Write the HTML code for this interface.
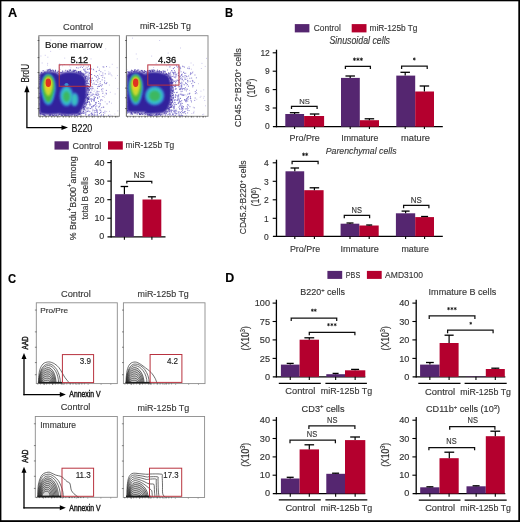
<!DOCTYPE html>
<html><head><meta charset="utf-8"><style>
html,body{margin:0;padding:0;background:#fff;}
svg{display:block;font-family:"Liberation Sans",sans-serif;}
text{stroke:currentColor;stroke-width:0.15px;}
</style></head><body>
<svg width="520" height="522" viewBox="0 0 520 522">
<defs><filter id="gb" filterUnits="userSpaceOnUse" x="0" y="0" width="520" height="522"><feGaussianBlur stdDeviation="0.3"/></filter></defs>
<rect width="520" height="522" fill="#fff"/>
<g filter="url(#gb)">
<text x="8.10" y="17.00" font-size="12.71" font-weight="bold" font-style="normal" fill="#000" color="#000" textLength="9.20" lengthAdjust="spacingAndGlyphs">A</text>
<text x="225.10" y="17.00" font-size="13.14" font-weight="bold" font-style="normal" fill="#000" color="#000" textLength="8.10" lengthAdjust="spacingAndGlyphs">B</text>
<text x="8.10" y="282.60" font-size="13.57" font-weight="bold" font-style="normal" fill="#000" color="#000" textLength="8.10" lengthAdjust="spacingAndGlyphs">C</text>
<text x="225.30" y="282.30" font-size="13.14" font-weight="bold" font-style="normal" fill="#000" color="#000" textLength="9.00" lengthAdjust="spacingAndGlyphs">D</text>
<text x="63.00" y="29.50" font-size="9.29" font-weight="normal" font-style="normal" fill="#383838" color="#383838" textLength="30.00" lengthAdjust="spacingAndGlyphs">Control</text>
<text x="140.00" y="29.30" font-size="9.00" font-weight="normal" font-style="normal" fill="#383838" color="#383838" textLength="51.00" lengthAdjust="spacingAndGlyphs">miR-125b Tg</text>
<rect x="54.50" y="141.30" width="14.30" height="8.30" fill="#55266f"/>
<text x="72.50" y="148.70" font-size="9.57" font-weight="normal" font-style="normal" fill="#383838" color="#383838" textLength="28.80" lengthAdjust="spacingAndGlyphs">Control</text>
<rect x="108.00" y="141.30" width="14.80" height="8.30" fill="#b4032d"/>
<text x="125.50" y="148.40" font-size="9.71" font-weight="normal" font-style="normal" fill="#383838" color="#383838" textLength="48.80" lengthAdjust="spacingAndGlyphs">miR-125b Tg</text>
<line x1="111.10" y1="160.00" x2="111.10" y2="237.40" stroke="#000" stroke-width="1.3"/>
<line x1="107.50" y1="236.80" x2="165.50" y2="236.80" stroke="#000" stroke-width="1.3"/>
<line x1="107.30" y1="162.60" x2="111.10" y2="162.60" stroke="#000" stroke-width="1.1"/>
<line x1="107.30" y1="181.10" x2="111.10" y2="181.10" stroke="#000" stroke-width="1.1"/>
<line x1="107.30" y1="199.70" x2="111.10" y2="199.70" stroke="#000" stroke-width="1.1"/>
<line x1="107.30" y1="218.20" x2="111.10" y2="218.20" stroke="#000" stroke-width="1.1"/>
<text x="94.40" y="166.00" font-size="8.43" font-weight="normal" font-style="normal" fill="#333" color="#333" textLength="10.00" lengthAdjust="spacingAndGlyphs">40</text>
<text x="94.40" y="184.50" font-size="8.43" font-weight="normal" font-style="normal" fill="#333" color="#333" textLength="10.00" lengthAdjust="spacingAndGlyphs">30</text>
<text x="94.40" y="203.00" font-size="8.43" font-weight="normal" font-style="normal" fill="#333" color="#333" textLength="10.00" lengthAdjust="spacingAndGlyphs">20</text>
<text x="94.40" y="221.40" font-size="8.43" font-weight="normal" font-style="normal" fill="#333" color="#333" textLength="10.00" lengthAdjust="spacingAndGlyphs">10</text>
<text x="99.20" y="239.10" font-size="8.43" font-weight="normal" font-style="normal" fill="#333" color="#333" textLength="5.00" lengthAdjust="spacingAndGlyphs">0</text>
<rect x="115.10" y="194.20" width="18.70" height="42.60" fill="#55266f"/>
<rect x="142.50" y="199.50" width="18.80" height="37.30" fill="#b4032d"/>
<line x1="124.40" y1="186.50" x2="124.40" y2="194.20" stroke="#000" stroke-width="1.2"/>
<line x1="120.65" y1="186.50" x2="128.15" y2="186.50" stroke="#000" stroke-width="1.3"/>
<line x1="151.90" y1="196.80" x2="151.90" y2="199.50" stroke="#000" stroke-width="1.2"/>
<line x1="147.90" y1="196.80" x2="155.90" y2="196.80" stroke="#000" stroke-width="1.3"/>
<path d="M126.80 183.50V181.30H151.80V183.50" fill="none" stroke="#111" stroke-width="1.25"/>
<line x1="124.40" y1="236.80" x2="124.40" y2="239.80" stroke="#000" stroke-width="1.1"/>
<line x1="151.90" y1="236.80" x2="151.90" y2="239.80" stroke="#000" stroke-width="1.1"/>
<text x="133.80" y="178.00" font-size="8.29" font-weight="normal" font-style="normal" fill="#383838" color="#383838" textLength="11.20" lengthAdjust="spacingAndGlyphs">NS</text>
<text transform="translate(75.5,240.2) rotate(-90)" font-size="9" fill="#333" color="#333" textLength="83.8" lengthAdjust="spacingAndGlyphs">% Brdu<tspan font-size="6.3" dy="-3.6">+</tspan><tspan dy="3.6">B200</tspan><tspan font-size="6.3" dy="-3.6">+</tspan><tspan dy="3.6">among</tspan></text>
<text transform="translate(88.10,219.40) rotate(-90)" x="0" y="0" font-size="9.00" fill="#333" color="#333" textLength="42.50" lengthAdjust="spacingAndGlyphs">total B cells</text>
<defs>
<filter id="b1" x="-30%" y="-30%" width="160%" height="160%"><feGaussianBlur stdDeviation="1.2"/></filter>
<filter id="b2" x="-30%" y="-30%" width="160%" height="160%"><feGaussianBlur stdDeviation="0.8"/></filter>
<filter id="b3" x="-30%" y="-30%" width="160%" height="160%"><feGaussianBlur stdDeviation="0.5"/></filter>
<clipPath id="cA1"><rect x="38.8" y="35.7" width="80.3" height="80.3"/></clipPath>
<clipPath id="cA2"><rect x="126.4" y="35.7" width="81.2" height="80.3"/></clipPath>
<clipPath id="cC1"><rect x="36.8" y="303" width="80" height="80.4"/></clipPath>
<clipPath id="cC2"><rect x="123.9" y="303" width="80.6" height="80.4"/></clipPath>
<clipPath id="cC3"><rect x="35.8" y="417" width="81" height="80.4"/></clipPath>
<clipPath id="cC4"><rect x="123.8" y="417" width="80.3" height="80.6"/></clipPath>
</defs>
<g clip-path="url(#cA1)">
<path d="M44.8 78.9h.9M43.6 76.6h.9M73.7 41.6h.9M73.0 102.1h.9M42.7 104.7h.9M93.4 70.2h.9M85.8 72.3h.9M102.6 91.9h.9M51.2 75.1h.9M86.5 82.4h.9M106.2 111.6h.9M40.8 72.9h.9M70.4 67.9h.9M89.7 41.0h.9M47.1 65.1h.9M108.9 85.1h.9M59.2 63.8h.9M76.3 74.7h.9M47.2 63.4h.9M105.3 48.9h.9M115.1 78.3h.9M59.9 65.3h.9M104.5 95.2h.9M80.4 64.4h.9M94.4 112.5h.9M111.0 103.2h.9M91.2 100.0h.9M99.0 74.2h.9M116.7 67.7h.9M114.7 94.0h.9M117.4 88.6h.9M82.9 46.5h.9M59.7 69.5h.9M111.8 64.3h.9M85.7 108.3h.9M83.4 98.7h.9M99.8 109.0h.9M109.1 111.4h.9M44.8 55.3h.9M56.6 112.2h.9M88.9 77.0h.9M47.4 57.2h.9M84.6 92.0h.9M43.6 91.1h.9M44.3 105.0h.9M63.4 96.8h.9M40.5 56.0h.9M97.6 80.1h.9M77.0 110.8h.9M104.5 70.6h.9M94.0 114.6h.9M71.4 63.8h.9M59.4 49.1h.9M63.8 64.5h.9M55.1 76.4h.9M109.3 67.2h.9M93.6 91.5h.9M117.1 75.5h.9M88.4 87.4h.9M63.4 81.4h.9M94.4 90.1h.9M80.3 73.2h.9M48.5 107.5h.9M117.3 110.9h.9M109.9 92.3h.9M110.8 74.9h.9M39.3 75.3h.9M64.3 103.2h.9M99.1 103.1h.9M62.2 65.8h.9M118.9 83.1h.9M73.2 58.0h.9M47.1 102.8h.9M82.9 93.6h.9M90.6 58.9h.9M63.1 80.6h.9M111.5 75.8h.9M111.5 115.7h.9M50.2 51.4h.9M99.0 69.0h.9M80.9 66.1h.9M58.9 68.0h.9M75.6 80.1h.9M85.6 67.0h.9M109.7 74.0h.9M93.0 69.6h.9M92.4 110.0h.9M41.7 63.0h.9M98.1 76.4h.9M62.6 112.2h.9M92.2 111.9h.9M50.4 40.1h.9M69.3 65.9h.9M67.1 112.4h.9M104.7 101.8h.9M42.9 73.9h.9M103.9 97.3h.9M64.3 58.1h.9M78.5 110.2h.9M100.8 84.6h.9M58.8 41.2h.9M109.7 115.0h.9M95.8 71.8h.9M48.7 103.3h.9M91.3 115.3h.9M85.7 110.4h.9M108.3 71.9h.9M101.2 111.7h.9M86.7 85.6h.9M83.0 87.1h.9M52.1 91.6h.9M64.0 81.3h.9M72.9 101.6h.9M109.6 72.9h.9M68.7 76.4h.9M114.4 114.0h.9M43.3 110.1h.9M51.8 98.9h.9M80.4 66.7h.9M42.1 103.1h.9" stroke="#6a60c8" stroke-width="0.80" opacity="0.45"/>
<path d="M88.9 87.2h.9M93.9 99.3h.9M95.9 71.4h.9M79.5 103.0h.9M91.9 114.0h.9M82.9 105.8h.9M78.8 83.7h.9M82.7 111.3h.9M97.3 82.1h.9M83.6 74.1h.9M104.5 111.2h.9M80.4 116.1h.9M92.6 106.3h.9M86.7 98.3h.9M100.6 99.5h.9M76.1 67.7h.9M103.4 67.1h.9M85.4 95.5h.9M84.6 97.5h.9M81.7 113.3h.9M86.4 111.6h.9M98.3 86.5h.9M78.5 105.3h.9M99.1 113.5h.9M84.4 96.7h.9M102.9 107.1h.9M89.0 81.2h.9M76.3 108.6h.9M95.5 103.5h.9M85.5 71.3h.9M77.6 82.9h.9M87.2 94.0h.9M103.0 114.7h.9M85.9 103.6h.9M89.8 78.1h.9M84.9 97.4h.9M80.5 112.9h.9M82.0 67.5h.9M91.3 107.3h.9M84.6 71.7h.9M84.6 82.1h.9M76.9 79.0h.9M94.3 105.0h.9M105.6 93.2h.9M83.2 66.1h.9M108.0 115.4h.9M83.7 91.0h.9M87.9 76.8h.9M79.4 105.8h.9M79.6 110.9h.9M84.7 79.3h.9M85.8 89.3h.9M90.6 82.5h.9M83.1 88.2h.9M88.7 101.5h.9M82.5 73.9h.9M89.7 92.4h.9M80.3 85.4h.9M84.2 98.2h.9M84.7 85.6h.9M92.8 105.9h.9M97.0 97.9h.9M82.0 96.5h.9M100.1 103.8h.9M85.6 102.5h.9M89.1 97.7h.9M93.6 105.5h.9M95.1 97.4h.9M104.4 113.0h.9M96.6 115.2h.9M84.8 100.6h.9M90.9 68.9h.9M93.7 101.3h.9M87.1 77.3h.9M81.4 105.2h.9M85.5 114.7h.9M95.7 80.9h.9M81.3 108.1h.9M86.6 87.5h.9M76.1 102.5h.9M86.3 81.2h.9M94.0 98.2h.9M91.2 112.9h.9M78.4 107.8h.9M102.6 66.8h.9M80.3 73.2h.9M98.3 103.5h.9M85.8 73.0h.9M78.5 89.6h.9M96.6 91.2h.9M95.7 94.4h.9M91.4 90.0h.9M88.3 107.8h.9M97.2 79.7h.9M89.9 82.0h.9M77.7 102.5h.9M76.3 75.6h.9M95.2 104.5h.9M86.8 81.3h.9M89.4 87.7h.9M77.7 72.0h.9M100.2 112.4h.9M76.6 85.6h.9M84.9 73.7h.9M76.2 100.5h.9M86.2 103.0h.9M78.1 105.1h.9M106.1 66.6h.9M103.3 107.3h.9M89.1 102.8h.9M91.4 95.0h.9M91.3 98.6h.9M87.9 66.1h.9M87.5 109.0h.9M79.6 94.0h.9M84.4 103.9h.9M85.8 96.6h.9M95.5 76.4h.9M79.7 106.7h.9M85.8 95.3h.9M100.8 75.6h.9M83.6 101.4h.9M90.5 92.2h.9M77.4 116.0h.9M96.4 94.6h.9M86.7 67.9h.9M83.6 70.2h.9M99.4 110.0h.9M101.1 86.1h.9M92.5 88.6h.9M77.6 78.9h.9M78.0 105.7h.9M103.2 115.8h.9M82.1 104.1h.9M86.8 72.3h.9M83.1 78.0h.9M85.3 113.2h.9M80.1 112.9h.9M102.4 88.8h.9M82.0 77.2h.9M106.0 93.9h.9M82.5 79.7h.9M90.0 74.5h.9M89.4 111.6h.9M88.0 79.0h.9M88.3 115.4h.9M76.1 108.0h.9M83.8 88.0h.9M85.2 94.9h.9M83.6 104.9h.9M84.3 70.0h.9M101.6 91.0h.9M84.7 96.9h.9M78.8 103.0h.9M90.1 108.5h.9M96.0 110.0h.9M83.8 108.0h.9M82.9 84.7h.9M76.2 92.3h.9M78.6 110.1h.9M96.8 91.9h.9M85.4 75.2h.9M86.5 107.3h.9M80.1 101.3h.9M76.7 96.3h.9M98.0 101.5h.9M81.2 90.9h.9M87.7 72.2h.9M81.8 95.9h.9M82.2 94.9h.9M82.9 107.7h.9M93.7 98.0h.9M97.2 67.1h.9M87.2 100.3h.9M86.5 92.3h.9M95.6 93.0h.9M81.2 72.6h.9M93.1 80.6h.9M79.7 93.6h.9M84.5 101.9h.9M99.0 96.9h.9M89.0 78.2h.9M76.5 83.8h.9M86.0 94.1h.9M88.0 115.9h.9M108.4 74.0h.9M92.3 88.2h.9M80.6 77.4h.9M90.8 100.1h.9M76.2 104.7h.9M96.9 114.6h.9M95.2 102.5h.9M92.4 94.0h.9M89.5 105.7h.9M97.0 88.4h.9M88.8 73.3h.9M89.6 108.6h.9M92.4 84.1h.9M90.7 113.9h.9M92.8 94.3h.9M90.4 92.8h.9M83.2 82.1h.9M82.6 80.6h.9M97.2 75.5h.9M102.5 96.5h.9M93.3 105.8h.9M84.3 91.1h.9M87.2 98.7h.9M81.1 73.9h.9M80.5 71.1h.9M90.9 74.6h.9M80.2 111.6h.9M90.7 88.7h.9M78.3 111.0h.9M86.2 85.7h.9M85.3 81.6h.9M96.3 106.0h.9M83.3 84.1h.9M80.8 93.0h.9M92.9 69.3h.9M84.0 80.3h.9M77.5 99.5h.9M82.5 101.6h.9M87.3 108.2h.9M82.7 83.8h.9M91.8 114.4h.9M87.0 111.4h.9M91.5 78.4h.9M84.9 110.1h.9M97.5 93.4h.9M99.8 81.7h.9M79.6 74.9h.9M89.5 99.5h.9M88.5 69.3h.9M85.5 72.4h.9M87.9 86.4h.9M81.6 80.0h.9M93.3 99.3h.9M86.4 108.8h.9M102.4 75.2h.9M77.7 68.0h.9M84.3 81.3h.9M77.6 81.7h.9M83.5 108.4h.9M104.7 83.6h.9M77.8 109.1h.9M78.0 78.3h.9M93.8 113.0h.9M81.4 104.5h.9M98.8 78.6h.9M91.0 86.8h.9M89.0 72.9h.9M104.2 78.0h.9M90.8 81.1h.9M82.0 94.4h.9M83.1 99.7h.9M80.8 80.6h.9M84.7 69.0h.9M84.3 101.4h.9M80.7 82.4h.9M91.2 74.5h.9M76.5 116.1h.9M79.5 102.2h.9M94.2 75.6h.9M76.3 112.4h.9M86.6 78.4h.9M77.2 105.1h.9M88.4 75.4h.9M89.7 75.3h.9M89.4 84.6h.9M91.5 108.0h.9M77.7 94.6h.9M82.6 81.1h.9M79.4 100.7h.9M94.6 115.0h.9M77.7 88.2h.9M87.9 99.4h.9M93.7 83.1h.9M82.9 80.9h.9M99.7 83.6h.9M79.6 82.3h.9M88.6 83.3h.9M77.2 75.5h.9M91.6 95.3h.9M98.3 94.5h.9M80.8 75.1h.9M86.6 90.7h.9M85.5 94.9h.9M97.6 95.7h.9M99.6 105.1h.9M85.0 81.1h.9M93.9 110.9h.9M90.3 104.6h.9M77.8 96.5h.9M99.1 106.6h.9M84.1 88.6h.9M100.4 71.7h.9M80.6 106.4h.9M82.3 91.3h.9M92.5 110.1h.9M79.2 82.6h.9M83.1 84.2h.9M100.2 85.6h.9M76.3 95.2h.9M76.9 89.2h.9M77.9 73.4h.9M87.5 79.8h.9M87.0 94.7h.9M91.2 80.2h.9M88.8 104.5h.9M97.4 98.1h.9M99.1 86.5h.9M96.2 84.5h.9M85.9 83.6h.9M76.3 110.0h.9M94.7 94.7h.9M83.1 69.3h.9M89.0 102.7h.9M100.4 115.9h.9M78.8 90.5h.9M87.6 79.0h.9M82.9 79.5h.9M85.2 86.2h.9M84.3 103.1h.9M83.9 93.1h.9M102.9 112.6h.9M89.7 103.8h.9M93.0 100.3h.9M78.4 86.9h.9M76.6 112.7h.9M106.4 82.6h.9M82.6 73.2h.9M79.8 107.1h.9M87.7 92.4h.9M79.8 67.4h.9M78.5 91.3h.9M83.6 113.5h.9M82.3 75.0h.9M97.0 98.1h.9M78.7 98.6h.9M102.3 77.3h.9M87.0 87.9h.9M84.5 104.3h.9M88.5 116.2h.9M96.4 111.0h.9M100.3 110.6h.9M80.7 115.2h.9M80.1 74.5h.9M79.8 83.1h.9M77.4 77.8h.9M85.7 87.7h.9M76.8 116.0h.9M81.7 87.6h.9M96.8 112.4h.9M85.0 114.9h.9M87.1 69.5h.9M97.4 86.6h.9M93.6 115.1h.9M92.2 86.7h.9M91.8 78.2h.9M80.9 108.6h.9M89.6 98.6h.9M89.3 115.1h.9M100.9 116.2h.9M101.7 100.2h.9M102.4 93.4h.9M95.9 102.4h.9M96.0 77.2h.9M98.2 107.1h.9M83.2 107.5h.9M82.5 78.7h.9M91.0 106.6h.9M82.3 100.3h.9M97.9 78.0h.9M90.3 85.2h.9M84.4 94.8h.9M83.5 102.3h.9M89.6 78.2h.9M79.8 98.1h.9M84.5 87.4h.9M102.0 84.8h.9M94.6 84.5h.9M88.4 86.6h.9M100.3 112.7h.9M104.0 82.6h.9M77.1 95.9h.9M95.4 108.4h.9M95.9 111.0h.9M77.7 100.3h.9M105.9 90.4h.9M82.1 82.9h.9M76.3 115.9h.9M87.0 81.8h.9M86.8 76.2h.9M98.5 84.9h.9M96.5 95.5h.9M89.6 79.8h.9M88.2 101.9h.9M94.7 110.3h.9M94.2 98.3h.9M83.6 112.6h.9M104.3 80.9h.9M84.7 71.1h.9M104.8 73.8h.9M88.3 77.7h.9M89.4 94.3h.9M82.4 106.4h.9M79.9 89.5h.9M94.1 100.3h.9M88.2 83.6h.9M96.9 113.0h.9M96.4 109.6h.9M98.7 70.5h.9M87.4 111.1h.9M85.5 112.7h.9M101.1 114.9h.9M90.0 88.7h.9M80.0 93.9h.9M101.0 89.3h.9M81.5 95.2h.9M91.7 99.5h.9M83.1 113.5h.9M80.9 91.1h.9M80.9 89.6h.9M98.5 91.6h.9M84.3 86.4h.9M81.3 78.1h.9M97.1 111.0h.9M100.0 100.8h.9M77.3 85.9h.9M88.3 111.0h.9M108.9 101.9h.9M86.3 96.3h.9M77.7 97.2h.9M95.4 112.5h.9M79.7 78.4h.9M81.9 76.0h.9M106.1 83.6h.9M81.7 107.8h.9M88.6 114.5h.9M85.7 76.0h.9M85.9 90.9h.9M79.7 99.0h.9M90.3 96.0h.9M93.6 96.5h.9M90.1 76.8h.9M79.7 79.7h.9M81.1 100.5h.9M97.3 115.9h.9M76.0 74.9h.9M95.1 106.9h.9M79.2 97.5h.9M91.3 115.3h.9M106.6 103.9h.9M93.7 115.4h.9M87.7 74.2h.9M81.9 92.1h.9M82.8 103.3h.9M89.1 68.7h.9M83.9 81.6h.9M84.3 82.2h.9M80.6 79.1h.9M92.2 114.7h.9M84.6 111.9h.9M89.2 73.7h.9M77.7 107.7h.9M90.9 113.5h.9M92.5 106.7h.9M83.8 110.0h.9M81.6 83.1h.9M81.5 101.6h.9M101.7 79.9h.9M101.3 107.6h.9M84.9 77.3h.9M91.1 101.3h.9M102.4 73.0h.9M78.5 88.5h.9M80.6 77.3h.9M90.3 82.7h.9M85.2 106.1h.9" stroke="#4a3cb8" stroke-width="0.90" opacity="0.75"/>
<path d="M39.20 74.50 C39.67 74.17 40.20 73.00 42.00 72.50 C43.80 72.00 47.67 71.53 50.00 71.50 C52.33 71.47 54.45 71.80 56.00 72.30 C57.55 72.80 58.30 74.42 59.30 74.50 C60.30 74.58 60.22 73.25 62.00 72.80 C63.78 72.35 67.33 71.80 70.00 71.80 C72.67 71.80 75.83 72.18 78.00 72.80 C80.17 73.42 81.70 74.30 83.00 75.50 C84.30 76.70 85.17 77.58 85.80 80.00 C86.43 82.42 86.75 86.73 86.80 90.00 C86.85 93.27 86.65 96.93 86.10 99.60 C85.55 102.27 84.40 104.03 83.50 106.00 C82.60 107.97 81.78 109.97 80.70 111.40 C79.62 112.83 80.12 114.03 77.00 114.60 C73.88 115.17 64.92 114.93 62.00 114.80 C59.08 114.67 60.50 113.83 59.50 113.80 C58.50 113.77 58.58 114.47 56.00 114.60 C53.42 114.73 46.67 114.87 44.00 114.60 C41.33 114.33 40.80 113.77 40.00 113.00 C39.20 112.23 39.33 116.42 39.20 110.00 C39.07 103.58 39.20 80.42 39.20 74.50Z" fill="#32209c" filter="url(#b1)"/>
<path d="M81.6 74.4h.9M60.0 72.7h.9M77.2 116.5h.9M44.6 72.2h.9M87.3 89.2h.9M38.8 75.3h.9M38.6 108.0h.9M86.7 88.6h.9M74.7 70.7h.9M67.2 71.5h.9M43.8 115.7h.9M79.7 113.3h.9M39.1 104.1h.9M44.4 115.6h.9M82.0 73.9h.9M88.9 90.6h.9M38.5 103.5h.9M88.3 88.3h.9M44.8 115.8h.9M65.5 116.0h.9M78.5 113.4h.9M85.8 105.1h.9M71.3 115.2h.9M84.7 77.2h.9M54.1 115.1h.9M38.9 83.2h.9M46.8 70.0h.9M68.6 115.4h.9M87.8 99.5h.9M44.0 116.1h.9M87.3 79.1h.9M65.3 70.3h.9M45.4 116.2h.9M38.7 98.6h.9M78.4 71.7h.9M83.9 109.4h.9M61.2 72.6h.9M52.9 70.4h.9M39.1 79.4h.9M55.9 115.2h.9M88.0 98.6h.9M69.8 70.2h.9M49.2 114.8h.9M64.7 114.8h.9M39.1 99.8h.9M38.3 73.2h.9M87.1 102.6h.9M73.0 71.3h.9M50.3 70.3h.9M84.5 104.9h.9M53.1 115.5h.9M67.1 116.5h.9M57.9 73.2h.9M84.8 77.0h.9M84.8 107.1h.9M60.5 114.8h.9M84.2 106.5h.9M83.4 73.9h.9M79.4 71.6h.9M87.8 86.5h.9M84.4 76.6h.9M41.3 114.0h.9M80.0 71.5h.9M85.5 77.0h.9M56.8 72.6h.9M62.3 72.1h.9M38.4 109.0h.9M87.0 95.3h.9M82.6 112.2h.9M52.4 115.7h.9M87.0 94.5h.9M72.8 71.6h.9M87.5 85.9h.9M85.0 77.9h.9M75.9 72.4h.9M76.0 115.5h.9M60.8 114.9h.9M74.1 115.2h.9M50.7 70.6h.9M38.6 93.3h.9M64.4 115.4h.9M38.5 86.0h.9M58.1 115.2h.9M79.0 114.5h.9M78.2 72.3h.9M38.2 75.8h.9M71.7 116.5h.9M88.5 89.1h.9M83.0 109.8h.9M77.5 72.2h.9M74.5 115.4h.9M77.9 114.2h.9M88.8 89.6h.9M83.3 75.3h.9M84.8 102.9h.9M86.6 98.7h.9M40.0 115.0h.9M38.7 83.7h.9M69.6 70.5h.9M70.0 116.0h.9M43.2 114.6h.9M87.0 88.2h.9M51.6 114.9h.9M76.2 71.1h.9M65.8 115.4h.9M40.1 113.5h.9M84.2 108.1h.9M84.7 103.5h.9M86.8 99.9h.9M88.5 87.1h.9M79.7 114.5h.9M49.7 69.3h.9M86.9 102.3h.9M38.5 81.5h.9M38.8 97.2h.9M67.1 70.9h.9M83.2 74.8h.9M56.6 115.3h.9M52.1 115.3h.9M85.3 78.6h.9M87.7 90.3h.9M52.2 70.1h.9M55.0 116.0h.9M88.5 96.4h.9M49.8 114.9h.9M79.5 73.0h.9M44.4 72.2h.9M38.7 87.1h.9M55.8 115.4h.9M61.1 116.4h.9M86.3 97.3h.9M88.4 94.0h.9M79.1 113.7h.9M58.7 114.3h.9M87.2 97.5h.9M48.8 115.5h.9M75.6 116.8h.9M38.8 84.3h.9M83.4 106.4h.9M73.1 116.6h.9M47.7 71.1h.9M74.0 70.5h.9M87.7 90.9h.9M71.7 71.2h.9M86.3 104.6h.9M47.9 69.6h.9M86.9 101.9h.9M64.8 116.5h.9M67.6 115.1h.9M63.6 116.5h.9M43.5 115.8h.9M65.7 116.1h.9M49.8 115.6h.9M86.5 102.1h.9M61.5 116.3h.9M38.6 110.5h.9M86.6 93.2h.9M38.0 77.7h.9M38.8 111.7h.9M55.0 70.2h.9M44.2 114.8h.9M87.8 89.0h.9M64.4 115.6h.9M39.0 113.0h.9M39.8 112.9h.9M46.5 116.7h.9M83.9 75.1h.9M68.5 71.7h.9M69.8 116.4h.9M83.2 74.9h.9M61.0 115.5h.9M39.0 110.3h.9M87.4 88.9h.9M74.8 116.2h.9M88.2 99.3h.9M49.9 71.0h.9M54.8 71.2h.9M38.1 101.7h.9M86.9 101.0h.9M53.0 116.0h.9M83.1 111.4h.9M57.7 71.6h.9M87.2 85.7h.9M57.8 71.1h.9M73.5 70.2h.9M59.3 72.1h.9M50.1 115.1h.9M80.9 113.3h.9M87.5 83.3h.9M87.9 92.0h.9M83.1 107.8h.9M42.7 70.6h.9M64.2 116.3h.9M88.6 89.9h.9M39.6 114.1h.9M87.6 88.3h.9M38.3 104.0h.9M39.1 86.9h.9M65.2 116.3h.9M49.4 69.4h.9M63.6 114.9h.9M87.7 94.8h.9M82.8 107.8h.9M54.7 71.9h.9M86.7 83.4h.9M38.4 77.7h.9M38.2 77.8h.9M72.8 70.2h.9M49.4 71.2h.9M85.9 76.7h.9M59.1 114.2h.9M77.6 114.8h.9M62.1 71.1h.9M39.1 93.6h.9M61.9 115.2h.9M68.2 116.0h.9M41.1 72.7h.9M52.9 71.3h.9M55.3 116.2h.9M38.7 96.4h.9M62.1 115.5h.9M67.3 116.8h.9M75.1 70.3h.9M51.4 70.9h.9M38.4 96.2h.9M70.1 70.0h.9M80.3 72.5h.9M81.8 113.0h.9M48.7 116.2h.9M85.9 80.2h.9M78.5 72.4h.9M87.9 98.5h.9M42.3 114.4h.9M38.5 105.3h.9M67.3 115.6h.9M88.0 97.3h.9M79.5 73.5h.9M56.0 116.7h.9M46.7 71.8h.9M78.3 71.7h.9M55.0 70.5h.9M68.8 70.0h.9M76.0 116.5h.9M81.5 73.2h.9M87.3 98.7h.9M84.5 106.8h.9M71.8 114.8h.9M85.4 78.7h.9M79.4 72.9h.9M74.2 71.4h.9M39.0 97.5h.9M65.5 115.4h.9M86.8 94.8h.9M87.3 80.7h.9M71.6 116.6h.9M80.7 73.6h.9M49.4 70.0h.9M38.9 77.4h.9M47.6 70.5h.9M78.1 71.7h.9" stroke="#32209c" stroke-width="0.9" opacity="0.85"/>
<ellipse cx="48.30" cy="88.00" rx="7.60" ry="14.50" fill="#3a6ad0" filter="url(#b2)" opacity="1.0"/>
<ellipse cx="48.30" cy="97.00" rx="5.20" ry="8.50" fill="#3a6ad0" filter="url(#b2)" opacity="1.0"/>
<ellipse cx="48.30" cy="87.50" rx="6.60" ry="13.00" fill="#2fb0c8" filter="url(#b2)" opacity="1.0"/>
<ellipse cx="48.30" cy="96.50" rx="4.40" ry="7.50" fill="#2fb0c8" filter="url(#b2)" opacity="1.0"/>
<ellipse cx="48.30" cy="86.50" rx="5.70" ry="11.50" fill="#48b840" filter="url(#b2)" opacity="1.0"/>
<ellipse cx="48.30" cy="95.50" rx="3.60" ry="6.50" fill="#48b840" filter="url(#b2)" opacity="1.0"/>
<ellipse cx="48.30" cy="85.00" rx="4.40" ry="8.50" fill="#a8d035" filter="url(#b2)" opacity="1.0"/>
<ellipse cx="48.30" cy="89.50" rx="3.00" ry="6.50" fill="#c8d830" filter="url(#b2)" opacity="1.0"/>
<ellipse cx="48.30" cy="84.00" rx="3.50" ry="6.50" fill="#f0d020" filter="url(#b2)" opacity="1.0"/>
<ellipse cx="48.30" cy="82.80" rx="2.70" ry="4.20" fill="#e03020" filter="url(#b3)" opacity="1.0"/>
<ellipse cx="66.50" cy="96.00" rx="6.80" ry="10.50" fill="#3a70d0" filter="url(#b2)" opacity="1.0"/>
<ellipse cx="74.50" cy="99.50" rx="4.00" ry="7.00" fill="#3a80d0" filter="url(#b2)" opacity="1.0"/>
<ellipse cx="66.50" cy="96.00" rx="5.60" ry="9.00" fill="#35c0c8" filter="url(#b2)" opacity="1.0"/>
<ellipse cx="74.50" cy="99.50" rx="2.80" ry="5.50" fill="#38c0c0" filter="url(#b2)" opacity="1.0"/>
<ellipse cx="66.50" cy="96.50" rx="3.40" ry="5.20" fill="#3cb860" filter="url(#b2)" opacity="1.0"/>
<ellipse cx="66.50" cy="84.50" rx="2.00" ry="1.60" fill="#3a90d0" filter="url(#b3)" opacity="1.0"/>
</g>
<g clip-path="url(#cA2)">
<path d="M179.7 89.8h.9M167.6 83.2h.9M186.8 78.6h.9M167.7 53.1h.9M189.1 90.4h.9M190.9 69.2h.9M199.7 97.3h.9M136.9 88.2h.9M146.2 90.9h.9M178.7 79.9h.9M138.0 83.3h.9M129.5 80.1h.9M169.9 99.9h.9M167.0 97.1h.9M129.5 73.3h.9M167.7 97.5h.9M129.0 79.8h.9M153.2 67.5h.9M162.9 103.6h.9M175.1 88.3h.9M135.4 81.6h.9M172.0 96.2h.9M184.5 89.3h.9M201.5 63.4h.9M126.4 69.5h.9M137.0 100.7h.9M156.2 116.0h.9M203.2 98.2h.9M183.0 84.3h.9M161.3 78.1h.9M156.9 92.9h.9M128.1 106.1h.9M193.6 111.3h.9M178.3 98.1h.9M203.3 89.8h.9M159.9 73.4h.9M183.3 71.9h.9M129.8 86.9h.9M142.2 99.1h.9M182.0 79.9h.9M204.8 66.4h.9M173.0 75.0h.9M153.2 115.5h.9M135.8 54.0h.9M200.9 68.5h.9M139.8 106.1h.9M153.3 110.3h.9M204.3 100.5h.9M136.8 58.9h.9M200.5 96.3h.9M203.3 114.2h.9M137.6 95.8h.9M190.6 63.0h.9M161.3 72.1h.9M150.2 92.9h.9M137.6 108.9h.9M168.6 59.5h.9M158.1 104.6h.9M203.7 96.4h.9M168.3 98.6h.9M155.9 78.1h.9M157.8 88.2h.9M173.4 72.7h.9M140.3 74.8h.9M186.4 85.8h.9M144.8 88.0h.9M192.4 71.7h.9M166.2 65.8h.9M181.8 86.2h.9M148.0 110.5h.9M149.9 82.2h.9M202.2 114.6h.9M132.1 38.1h.9M131.8 85.5h.9M185.3 99.6h.9M176.0 65.3h.9M191.4 113.5h.9M144.1 115.7h.9M168.9 67.0h.9M168.6 64.4h.9M180.2 89.8h.9M166.0 74.0h.9M185.3 94.8h.9M188.6 66.5h.9M161.1 84.4h.9M170.0 110.3h.9M196.6 93.7h.9M166.4 77.2h.9M140.6 97.7h.9M150.5 90.2h.9M206.1 58.4h.9M192.8 107.2h.9M192.9 65.0h.9M155.7 63.4h.9M157.0 75.9h.9M162.2 87.2h.9M141.2 79.3h.9M147.4 95.2h.9M185.8 96.0h.9M198.0 83.7h.9M151.2 56.1h.9M156.2 87.2h.9M180.0 48.0h.9M172.8 93.9h.9M130.2 89.5h.9M200.5 91.2h.9M159.2 40.5h.9M167.3 88.5h.9M158.2 102.9h.9M154.0 70.7h.9M141.4 74.2h.9M172.7 97.9h.9M196.3 99.3h.9M142.0 103.6h.9M184.0 75.5h.9M164.0 99.3h.9M205.0 105.8h.9M169.3 83.0h.9M176.2 109.1h.9M140.4 79.2h.9" stroke="#6a60c8" stroke-width="0.80" opacity="0.45"/>
<path d="M174.0 70.6h.9M169.7 86.2h.9M169.6 102.4h.9M184.9 108.9h.9M174.1 67.6h.9M169.3 112.9h.9M178.2 115.2h.9M175.6 113.9h.9M181.4 115.7h.9M164.4 100.7h.9M171.5 70.8h.9M180.8 116.3h.9M181.4 75.2h.9M168.7 113.8h.9M167.4 74.5h.9M176.3 113.3h.9M176.2 111.1h.9M194.9 93.6h.9M172.7 98.9h.9M179.0 101.5h.9M170.4 89.0h.9M172.3 113.3h.9M189.9 98.5h.9M171.2 90.1h.9M189.4 78.3h.9M185.0 87.7h.9M167.9 108.5h.9M175.7 88.8h.9M166.8 107.9h.9M171.7 82.0h.9M176.8 92.3h.9M187.2 68.2h.9M180.5 94.0h.9M168.4 82.9h.9M171.0 89.3h.9M170.7 83.6h.9M167.4 96.2h.9M169.8 104.6h.9M173.7 100.8h.9M174.6 111.6h.9M180.9 111.4h.9M185.3 73.3h.9M186.3 100.5h.9M177.2 67.1h.9M180.1 115.9h.9M175.1 82.6h.9M179.4 86.5h.9M171.5 107.1h.9M188.6 68.7h.9M175.5 110.5h.9M174.2 86.4h.9M184.6 78.0h.9M194.8 91.5h.9M178.1 94.8h.9M179.7 94.3h.9M171.1 110.2h.9M171.8 110.4h.9M170.1 83.3h.9M168.0 98.3h.9M192.5 81.0h.9M174.7 102.5h.9M183.9 88.4h.9M172.9 103.8h.9M169.7 95.3h.9M179.4 89.5h.9M170.6 99.7h.9M166.8 115.1h.9M172.8 80.2h.9M184.0 111.6h.9M187.5 97.5h.9M196.0 90.2h.9M178.4 107.2h.9M179.8 98.3h.9M190.6 100.6h.9M180.9 109.2h.9M178.8 100.3h.9M178.8 114.1h.9M190.3 98.7h.9M181.7 91.3h.9M183.0 106.6h.9M180.2 78.7h.9M180.6 71.8h.9M164.7 71.2h.9M183.3 95.0h.9M167.3 80.9h.9M175.6 76.8h.9M185.8 83.8h.9M180.4 104.7h.9M184.6 100.5h.9M170.4 96.4h.9M181.8 89.6h.9M169.8 111.2h.9M171.8 102.6h.9M192.2 72.8h.9M182.5 112.4h.9M169.3 114.0h.9M169.9 90.9h.9M179.7 105.7h.9M174.9 86.7h.9M173.8 107.6h.9M181.9 103.4h.9M174.4 86.3h.9M179.9 103.9h.9M171.2 93.2h.9M173.0 107.0h.9M182.0 110.3h.9M182.2 115.5h.9M186.1 98.7h.9M192.7 85.7h.9M178.7 82.4h.9M180.5 83.4h.9M187.3 94.2h.9M187.2 112.9h.9M175.2 96.1h.9M164.8 108.4h.9M173.7 81.5h.9M194.5 75.0h.9M173.1 98.0h.9M169.2 115.1h.9M172.6 114.8h.9M177.9 75.7h.9M184.0 73.3h.9M180.5 101.9h.9M183.5 76.8h.9M169.3 86.8h.9M173.1 68.6h.9M171.1 106.4h.9M181.8 88.9h.9M169.3 101.2h.9M187.0 84.6h.9M170.2 104.5h.9M169.8 110.1h.9M173.0 73.9h.9M181.2 108.1h.9M186.5 76.7h.9M187.4 80.9h.9M173.8 102.6h.9M178.2 95.6h.9M182.9 95.3h.9M188.8 93.4h.9M168.4 86.9h.9M168.2 110.1h.9M181.7 74.1h.9M185.2 113.7h.9M164.2 87.5h.9M195.9 77.8h.9M165.8 73.5h.9M178.2 86.0h.9M174.1 81.2h.9M168.3 96.1h.9M186.5 99.1h.9M165.3 107.4h.9M167.1 77.3h.9M167.2 111.7h.9M181.6 88.6h.9M174.9 110.2h.9M176.1 66.1h.9M175.2 113.3h.9M178.8 111.9h.9M191.9 80.4h.9M171.1 79.3h.9M187.4 81.9h.9M163.8 93.9h.9M189.4 93.3h.9M170.5 77.4h.9M186.3 116.0h.9M163.6 85.6h.9M167.4 92.2h.9M177.6 98.8h.9M167.6 93.9h.9M175.2 81.0h.9M180.9 115.2h.9M178.1 75.4h.9M167.2 80.4h.9M180.9 94.9h.9M181.5 106.1h.9M168.5 93.7h.9M164.8 115.8h.9M174.0 113.0h.9M180.6 87.9h.9M166.9 76.9h.9M174.7 97.3h.9M167.6 79.5h.9M188.1 86.2h.9M165.8 77.0h.9M165.8 91.4h.9M163.5 80.5h.9M181.6 83.1h.9M182.7 112.9h.9M184.1 99.5h.9M176.2 75.0h.9M181.3 87.8h.9M183.6 95.0h.9M191.1 101.9h.9M188.8 68.2h.9M182.1 79.1h.9M167.0 80.0h.9M179.8 67.2h.9M175.4 85.9h.9M164.5 112.6h.9M176.5 95.4h.9M173.2 111.7h.9M175.3 84.2h.9M170.3 78.9h.9M167.9 111.9h.9M168.8 78.2h.9M178.4 99.3h.9M173.4 110.2h.9M173.0 90.4h.9M163.9 78.3h.9M185.6 83.5h.9M167.1 103.0h.9M179.2 79.8h.9M171.2 106.5h.9M187.2 80.4h.9M165.3 105.4h.9M173.9 100.1h.9M190.7 73.7h.9M172.4 89.8h.9M179.5 76.7h.9M192.4 81.8h.9M172.9 73.7h.9M170.7 96.4h.9M179.5 70.0h.9M189.5 106.7h.9M186.0 100.0h.9M178.8 102.4h.9M181.8 94.4h.9M183.2 80.9h.9M185.4 101.5h.9M184.4 99.8h.9M187.3 101.1h.9M180.2 83.3h.9M187.1 89.2h.9M168.0 106.9h.9M179.6 89.4h.9M172.9 81.3h.9M171.3 110.1h.9M170.0 114.1h.9M177.8 111.8h.9M195.8 92.7h.9M176.3 113.7h.9M175.5 88.8h.9M190.0 73.1h.9M167.0 70.0h.9M187.7 99.2h.9M185.0 82.8h.9M168.0 97.5h.9M171.3 88.4h.9M178.2 80.6h.9M177.0 96.2h.9M182.2 66.2h.9M172.1 114.6h.9M188.0 96.5h.9M194.3 100.4h.9M180.6 91.7h.9M174.6 74.2h.9M187.1 110.1h.9M179.3 77.1h.9M180.0 112.5h.9M174.7 112.3h.9M181.4 84.9h.9M169.6 102.5h.9M192.3 86.9h.9M181.3 100.5h.9M174.2 92.6h.9M167.4 78.7h.9M190.4 73.0h.9M169.1 91.2h.9M174.9 115.4h.9M171.1 90.7h.9M188.6 110.6h.9M182.8 107.0h.9M179.0 108.7h.9M180.8 78.0h.9M169.2 108.5h.9M181.2 116.3h.9M177.8 73.5h.9M175.0 97.3h.9M167.7 92.5h.9M163.8 92.8h.9M175.1 72.1h.9M169.5 100.1h.9M182.3 95.4h.9M171.1 90.5h.9M194.2 82.4h.9M182.3 112.2h.9M175.0 86.3h.9M190.0 97.2h.9M194.7 98.0h.9M164.4 102.2h.9M179.6 76.6h.9M171.9 76.5h.9M173.9 110.9h.9M171.5 87.0h.9M179.3 67.9h.9M171.0 111.4h.9M182.0 108.8h.9M173.6 108.8h.9M171.5 92.2h.9M173.5 108.5h.9M174.9 104.2h.9M177.2 99.8h.9M191.3 83.6h.9M165.4 74.7h.9M174.6 115.8h.9M167.0 78.9h.9M176.7 80.2h.9M164.9 105.9h.9M164.6 76.8h.9M164.0 75.8h.9M177.5 97.7h.9M193.8 107.8h.9M170.7 76.7h.9M173.2 91.1h.9M178.2 96.3h.9M180.2 68.4h.9M170.2 77.9h.9M168.1 85.8h.9M187.0 107.8h.9M188.2 76.0h.9M172.7 76.3h.9M164.5 106.8h.9M185.4 79.5h.9M184.5 79.3h.9M181.0 107.0h.9M178.0 112.9h.9M182.3 108.4h.9M178.2 72.6h.9M186.7 106.3h.9M181.1 86.5h.9M181.2 107.7h.9M171.9 90.1h.9M174.2 105.0h.9M189.7 81.3h.9M189.9 74.6h.9M180.2 101.4h.9M173.9 72.2h.9M167.7 114.5h.9M173.7 104.9h.9M174.8 72.9h.9M175.3 94.9h.9M172.9 72.6h.9M180.2 88.6h.9M170.3 72.2h.9M185.8 89.1h.9M179.2 115.5h.9M174.8 77.8h.9M180.0 98.5h.9M181.7 106.0h.9M174.2 111.2h.9M178.1 81.0h.9M180.8 113.8h.9M170.4 74.7h.9M180.9 85.3h.9M164.9 83.3h.9M165.7 90.3h.9M184.1 67.1h.9M187.6 108.6h.9M168.9 104.3h.9M183.1 72.4h.9M166.6 108.0h.9M169.6 66.8h.9M179.4 88.8h.9M169.1 111.5h.9M192.4 85.6h.9M169.6 106.0h.9M175.9 74.2h.9M185.8 76.5h.9M193.3 112.9h.9M173.4 73.2h.9M172.9 87.1h.9M191.2 78.1h.9M181.0 74.5h.9M165.5 90.2h.9M181.3 82.2h.9M170.0 73.2h.9M171.8 91.8h.9M182.2 76.7h.9M166.9 75.1h.9M173.8 77.4h.9M173.3 96.2h.9M172.8 68.4h.9M174.9 75.0h.9M178.8 100.1h.9M174.2 106.6h.9M163.7 71.5h.9M188.2 105.1h.9M166.7 95.6h.9M181.5 79.7h.9M173.2 107.0h.9M175.1 99.9h.9M167.6 75.6h.9M169.5 85.0h.9M175.1 95.0h.9M170.6 79.9h.9M189.9 96.4h.9M176.0 104.5h.9M171.2 87.3h.9M173.9 100.0h.9M168.3 83.2h.9M175.8 81.6h.9M166.1 82.9h.9M183.9 84.8h.9M165.4 89.0h.9M182.0 108.1h.9M166.1 76.4h.9M165.5 101.5h.9M186.2 108.8h.9M170.3 82.7h.9M171.9 100.6h.9M167.2 108.4h.9M171.9 99.1h.9M170.4 76.0h.9M172.0 91.6h.9M164.5 87.6h.9M170.4 95.7h.9M170.8 112.3h.9M168.4 72.7h.9M178.6 87.0h.9M180.7 85.3h.9M163.6 78.9h.9M180.7 75.5h.9M185.9 90.9h.9M172.7 114.1h.9M182.7 66.7h.9M184.4 89.9h.9M165.7 82.4h.9M167.8 96.3h.9M185.7 101.8h.9M172.8 107.1h.9M183.8 112.7h.9M172.6 87.6h.9M174.8 89.4h.9M164.2 74.4h.9M176.7 100.5h.9M168.3 103.7h.9M164.1 89.2h.9M187.5 97.2h.9M169.9 82.5h.9M171.9 91.0h.9M185.4 100.7h.9M172.1 72.3h.9M179.3 106.2h.9M177.7 103.6h.9M165.0 115.1h.9M176.7 80.3h.9M172.2 105.7h.9M170.7 115.8h.9M180.6 103.4h.9M166.1 91.9h.9M182.6 109.1h.9M174.6 76.7h.9M184.8 111.6h.9M183.0 88.6h.9M171.2 85.4h.9M171.5 82.2h.9M164.8 92.2h.9M168.3 89.9h.9M178.2 103.1h.9M188.8 94.1h.9M177.9 102.2h.9M168.3 96.6h.9M187.0 104.7h.9M172.7 115.0h.9M168.1 90.9h.9M176.7 100.0h.9M164.6 114.1h.9M185.4 75.5h.9M166.7 81.2h.9M169.8 92.4h.9M167.8 83.6h.9M163.8 93.5h.9M166.6 112.4h.9M168.8 90.0h.9M186.9 98.2h.9M178.4 66.6h.9M171.2 70.6h.9M179.4 109.2h.9M176.0 92.6h.9" stroke="#4a3cb8" stroke-width="0.90" opacity="0.75"/>
<path d="M126.60 74.50 C127.07 74.17 127.60 73.00 129.40 72.50 C131.20 72.00 135.23 71.53 137.40 71.50 C139.57 71.47 141.15 71.88 142.40 72.30 C143.65 72.72 144.07 73.97 144.90 74.00 C145.73 74.03 145.65 72.87 147.40 72.50 C149.15 72.13 152.73 71.68 155.40 71.80 C158.07 71.92 161.32 72.58 163.40 73.20 C165.48 73.82 166.73 74.37 167.90 75.50 C169.07 76.63 169.82 77.58 170.40 80.00 C170.98 82.42 171.32 86.67 171.40 90.00 C171.48 93.33 171.32 97.17 170.90 100.00 C170.48 102.83 169.73 105.08 168.90 107.00 C168.07 108.92 167.32 110.40 165.90 111.50 C164.48 112.60 163.48 113.18 160.40 113.60 C157.32 114.02 149.98 114.23 147.40 114.00 C144.82 113.77 145.73 112.45 144.90 112.20 C144.07 111.95 144.65 112.45 142.40 112.50 C140.15 112.55 133.90 112.72 131.40 112.50 C128.90 112.28 128.20 111.87 127.40 111.20 C126.60 110.53 126.73 114.62 126.60 108.50 C126.47 102.38 126.60 80.17 126.60 74.50Z" fill="#32209c" filter="url(#b1)"/>
<path d="M160.6 115.0h.9M152.7 70.1h.9M171.9 88.1h.9M164.4 113.1h.9M171.0 83.1h.9M165.8 74.2h.9M157.3 71.6h.9M171.2 100.6h.9M126.3 110.1h.9M135.1 112.7h.9M134.5 113.2h.9M171.8 102.3h.9M171.5 81.1h.9M163.7 113.4h.9M158.6 114.0h.9M142.4 71.4h.9M171.7 83.0h.9M172.9 94.9h.9M141.2 70.6h.9M170.0 103.9h.9M126.3 112.3h.9M134.7 69.7h.9M126.0 94.5h.9M153.3 71.4h.9M154.2 115.4h.9M133.9 112.7h.9M165.4 74.1h.9M127.7 72.6h.9M125.5 91.1h.9M149.8 116.1h.9M136.8 114.1h.9M125.9 75.9h.9M172.4 97.7h.9M170.7 82.4h.9M128.4 72.6h.9M172.9 97.8h.9M134.1 70.1h.9M126.4 102.5h.9M160.6 114.5h.9M157.1 70.1h.9M157.4 115.9h.9M172.2 82.7h.9M143.9 72.1h.9M169.8 107.5h.9M162.4 114.9h.9M170.9 83.2h.9M130.9 72.3h.9M162.6 70.9h.9M158.9 72.0h.9M139.1 113.7h.9M147.0 114.3h.9M134.0 70.9h.9M171.3 80.2h.9M149.8 115.5h.9M128.9 72.8h.9M170.9 81.6h.9M151.7 70.2h.9M144.2 70.9h.9M172.2 95.5h.9M126.5 88.5h.9M157.8 114.9h.9M125.7 101.2h.9M126.0 91.2h.9M125.9 80.0h.9M144.5 112.9h.9M150.2 71.7h.9M170.5 78.3h.9M149.3 70.6h.9M144.9 71.7h.9M159.2 114.0h.9M137.7 112.8h.9M172.0 79.3h.9M149.0 114.5h.9M142.2 114.5h.9M139.2 114.0h.9M145.3 114.6h.9M160.9 72.3h.9M140.1 114.0h.9M171.6 105.0h.9M126.4 106.9h.9M171.2 85.1h.9M169.7 77.9h.9M142.9 72.2h.9M127.0 110.6h.9M138.2 70.0h.9M125.6 81.7h.9M166.2 74.1h.9M151.0 115.3h.9M132.1 70.8h.9M172.6 91.0h.9M172.7 85.3h.9M140.9 114.0h.9M156.6 115.9h.9M154.3 70.6h.9M155.9 115.2h.9M144.0 113.8h.9M126.2 106.0h.9M170.6 104.5h.9M135.6 113.0h.9M146.7 72.1h.9M168.6 73.8h.9M168.6 110.9h.9M142.7 72.4h.9M141.4 70.4h.9M152.0 71.4h.9M126.4 95.7h.9M172.1 90.9h.9M170.5 79.4h.9M170.0 79.0h.9M149.2 115.2h.9M152.2 71.2h.9M172.6 82.8h.9M158.5 71.4h.9M170.6 78.8h.9M150.8 114.2h.9M168.8 109.8h.9M173.1 89.0h.9M151.7 70.9h.9M145.4 113.1h.9M168.2 75.8h.9M169.4 75.3h.9M165.6 113.7h.9M125.9 102.3h.9M170.6 80.8h.9M126.1 95.9h.9M137.0 70.1h.9M126.6 108.7h.9M171.1 103.7h.9M172.0 87.0h.9M149.7 114.0h.9M140.5 71.0h.9M168.4 108.3h.9M133.4 71.5h.9M128.7 71.9h.9M152.3 70.8h.9M126.5 91.2h.9M131.9 114.2h.9M150.4 71.4h.9M125.7 81.2h.9M169.1 73.9h.9M147.0 70.6h.9M170.4 107.5h.9M159.3 114.6h.9M171.2 102.6h.9M125.5 91.5h.9M159.9 115.6h.9M141.5 113.4h.9M172.8 92.2h.9M171.7 80.3h.9M126.6 110.7h.9M131.0 70.2h.9M130.9 112.5h.9M127.5 71.5h.9M126.4 76.2h.9M149.9 71.8h.9M151.4 70.1h.9M171.6 84.3h.9M139.2 71.8h.9M125.9 93.9h.9M144.1 72.6h.9M144.9 71.4h.9M161.0 71.7h.9M164.9 72.0h.9M130.9 71.0h.9M142.1 71.0h.9M148.0 114.7h.9M125.8 94.1h.9M163.5 71.1h.9M170.5 107.3h.9M126.1 86.9h.9M156.1 113.9h.9M172.1 101.4h.9M158.9 70.6h.9M166.5 111.5h.9M126.0 107.0h.9M147.0 115.1h.9M169.5 76.5h.9M150.8 115.5h.9M127.0 113.0h.9M152.6 114.6h.9M128.3 112.1h.9M130.6 112.7h.9M169.1 107.5h.9M148.1 70.9h.9M172.0 83.1h.9M135.7 71.2h.9M125.7 88.6h.9M145.8 73.1h.9M158.0 114.4h.9M135.6 70.9h.9M169.1 109.8h.9M148.5 72.3h.9M171.3 86.2h.9M172.6 95.2h.9M156.6 71.2h.9M137.5 112.7h.9M150.0 71.2h.9M156.0 114.5h.9M166.1 113.1h.9M147.9 116.1h.9M139.3 113.9h.9M147.8 115.7h.9M149.5 70.4h.9M170.4 106.1h.9M126.0 84.0h.9M126.1 108.7h.9M171.2 97.9h.9M149.4 115.6h.9M168.0 109.1h.9M171.6 82.6h.9M172.1 93.5h.9M136.7 70.8h.9M145.2 112.5h.9M139.1 114.5h.9M171.6 86.3h.9M126.1 82.7h.9M141.4 113.1h.9M157.0 114.1h.9M126.4 85.5h.9M163.1 73.0h.9M126.2 76.0h.9M170.6 105.8h.9M125.8 101.4h.9M171.2 99.5h.9M126.0 83.6h.9M139.9 114.5h.9M133.3 71.8h.9M149.8 115.3h.9M126.1 94.4h.9M126.1 89.5h.9M169.4 77.5h.9M143.9 70.7h.9M167.6 74.3h.9M153.5 69.9h.9M142.8 113.9h.9M168.5 76.4h.9M149.6 114.9h.9M165.3 111.8h.9M149.4 71.8h.9M151.6 115.5h.9M152.0 115.8h.9M169.4 78.0h.9M127.2 111.1h.9M155.1 115.3h.9M163.5 72.0h.9M170.4 107.4h.9M130.4 114.0h.9M155.4 114.6h.9M159.7 71.5h.9M134.5 71.7h.9M168.0 73.2h.9M149.6 70.4h.9M171.3 99.7h.9M131.6 113.8h.9M130.3 71.9h.9M131.1 113.7h.9M171.7 83.3h.9M146.4 71.8h.9M150.2 115.7h.9M125.7 111.8h.9" stroke="#32209c" stroke-width="0.9" opacity="0.85"/>
<ellipse cx="135.70" cy="88.00" rx="7.60" ry="14.50" fill="#3a6ad0" filter="url(#b2)" opacity="1.0"/>
<ellipse cx="135.70" cy="97.00" rx="5.20" ry="8.50" fill="#3a6ad0" filter="url(#b2)" opacity="1.0"/>
<ellipse cx="135.70" cy="87.50" rx="6.60" ry="13.00" fill="#2fb0c8" filter="url(#b2)" opacity="1.0"/>
<ellipse cx="135.70" cy="96.50" rx="4.40" ry="7.50" fill="#2fb0c8" filter="url(#b2)" opacity="1.0"/>
<ellipse cx="135.70" cy="86.50" rx="5.70" ry="11.50" fill="#48b840" filter="url(#b2)" opacity="1.0"/>
<ellipse cx="135.70" cy="95.50" rx="3.60" ry="6.50" fill="#48b840" filter="url(#b2)" opacity="1.0"/>
<ellipse cx="135.70" cy="85.00" rx="4.40" ry="8.50" fill="#a8d035" filter="url(#b2)" opacity="1.0"/>
<ellipse cx="135.70" cy="89.50" rx="3.00" ry="6.50" fill="#c8d830" filter="url(#b2)" opacity="1.0"/>
<ellipse cx="135.70" cy="84.00" rx="3.50" ry="6.50" fill="#f0d020" filter="url(#b2)" opacity="1.0"/>
<ellipse cx="135.70" cy="82.80" rx="2.70" ry="4.20" fill="#e03020" filter="url(#b3)" opacity="1.0"/>
<ellipse cx="154.70" cy="95.80" rx="9.80" ry="9.80" fill="#3a70d0" filter="url(#b2)" opacity="1.0"/>
<ellipse cx="154.70" cy="95.80" rx="8.50" ry="8.50" fill="#35c0c8" filter="url(#b2)" opacity="1.0"/>
<ellipse cx="154.70" cy="95.80" rx="5.50" ry="5.20" fill="#3cb860" filter="url(#b2)" opacity="1.0"/>
</g>
<rect x="38.80" y="35.70" width="80.60" height="80.60" fill="none" stroke="#8a8a8a" stroke-width="1.0"/>
<rect x="126.40" y="35.70" width="81.60" height="80.60" fill="none" stroke="#8a8a8a" stroke-width="1.0"/>
<line x1="39.5" y1="116.9" x2="118.5" y2="116.9" stroke="#333" stroke-width="0.9" stroke-dasharray="1.2 1.6 0.8 2.2 1.5 1.2 0.6 2.5"/>
<line x1="38.9" y1="36.5" x2="38.9" y2="116.5" stroke="#555" stroke-width="0.5"/>
<line x1="37.60" y1="40.50" x2="39.30" y2="40.50" stroke="#444" stroke-width="0.8"/>
<line x1="37.60" y1="57.60" x2="39.30" y2="57.60" stroke="#444" stroke-width="0.8"/>
<line x1="37.60" y1="72.50" x2="39.30" y2="72.50" stroke="#444" stroke-width="0.8"/>
<line x1="37.60" y1="88.10" x2="39.30" y2="88.10" stroke="#444" stroke-width="0.8"/>
<line x1="37.60" y1="97.80" x2="39.30" y2="97.80" stroke="#444" stroke-width="0.8"/>
<line x1="37.60" y1="108.60" x2="39.30" y2="108.60" stroke="#444" stroke-width="0.8"/>
<line x1="127" y1="116.9" x2="207.5" y2="116.9" stroke="#333" stroke-width="0.9" stroke-dasharray="1.2 1.6 0.8 2.2 1.5 1.2 0.6 2.5"/>
<line x1="126.4" y1="36.5" x2="126.4" y2="116.5" stroke="#555" stroke-width="0.5"/>
<line x1="125.10" y1="40.50" x2="126.80" y2="40.50" stroke="#444" stroke-width="0.8"/>
<line x1="125.10" y1="57.60" x2="126.80" y2="57.60" stroke="#444" stroke-width="0.8"/>
<line x1="125.10" y1="72.50" x2="126.80" y2="72.50" stroke="#444" stroke-width="0.8"/>
<line x1="125.10" y1="88.10" x2="126.80" y2="88.10" stroke="#444" stroke-width="0.8"/>
<line x1="125.10" y1="97.80" x2="126.80" y2="97.80" stroke="#444" stroke-width="0.8"/>
<line x1="125.10" y1="108.60" x2="126.80" y2="108.60" stroke="#444" stroke-width="0.8"/>
<rect x="59.20" y="64.80" width="31.30" height="21.50" fill="none" stroke="#b8323f" stroke-width="1.0"/>
<rect x="147.80" y="64.90" width="31.20" height="20.20" fill="none" stroke="#b8323f" stroke-width="1.0"/>
<text x="45.10" y="47.90" font-size="9.71" font-weight="normal" font-style="normal" fill="#111" color="#111" textLength="57.50" lengthAdjust="spacingAndGlyphs">Bone marrow</text>
<text x="70.40" y="62.80" font-size="9.00" font-weight="normal" font-style="normal" fill="#111" color="#111" textLength="17.70" lengthAdjust="spacingAndGlyphs" style="stroke-width:0.3px">5.12</text>
<text x="158.10" y="62.80" font-size="9.00" font-weight="normal" font-style="normal" fill="#111" color="#111" textLength="18.10" lengthAdjust="spacingAndGlyphs" style="stroke-width:0.3px">4.36</text>
<line x1="26.90" y1="127.60" x2="26.90" y2="90.50" stroke="#000" stroke-width="1.3"/>
<path d="M26.9 85.2 L24.3 92.3 L29.5 92.3 Z" fill="#000"/>
<line x1="26.30" y1="127.60" x2="63.00" y2="127.60" stroke="#000" stroke-width="1.3"/>
<path d="M68.0 127.6 L61.5 125.3 L61.5 129.9 Z" fill="#000"/>
<text transform="translate(29.40,82.50) rotate(-90)" x="0" y="0" font-size="10.29" fill="#111" color="#111" textLength="18.50" lengthAdjust="spacingAndGlyphs">BrdU</text>
<text x="71.50" y="131.50" font-size="10.57" font-weight="normal" font-style="normal" fill="#111" color="#111" textLength="20.80" lengthAdjust="spacingAndGlyphs">B220</text>
<rect x="294.80" y="24.10" width="14.60" height="8.30" fill="#55266f"/>
<text x="313.70" y="31.20" font-size="9.29" font-weight="normal" font-style="normal" fill="#383838" color="#383838" textLength="27.20" lengthAdjust="spacingAndGlyphs">Control</text>
<rect x="351.70" y="24.10" width="14.80" height="8.30" fill="#b4032d"/>
<text x="369.60" y="31.20" font-size="9.14" font-weight="normal" font-style="normal" fill="#383838" color="#383838" textLength="47.90" lengthAdjust="spacingAndGlyphs">miR-125b Tg</text>
<text x="329.50" y="43.80" font-size="10.00" font-weight="normal" font-style="italic" fill="#383838" color="#383838" textLength="60.50" lengthAdjust="spacingAndGlyphs">Sinusoidal cells</text>
<line x1="276.50" y1="49.70" x2="276.50" y2="127.30" stroke="#000" stroke-width="1.3"/>
<line x1="272.90" y1="126.70" x2="442.80" y2="126.70" stroke="#000" stroke-width="1.3"/>
<line x1="272.70" y1="52.80" x2="276.50" y2="52.80" stroke="#000" stroke-width="1.1"/>
<line x1="272.70" y1="71.20" x2="276.50" y2="71.20" stroke="#000" stroke-width="1.1"/>
<line x1="272.70" y1="89.60" x2="276.50" y2="89.60" stroke="#000" stroke-width="1.1"/>
<line x1="272.70" y1="108.00" x2="276.50" y2="108.00" stroke="#000" stroke-width="1.1"/>
<text x="260.40" y="55.80" font-size="8.57" font-weight="normal" font-style="normal" fill="#333" color="#333" textLength="9.40" lengthAdjust="spacingAndGlyphs">12</text>
<text x="265.10" y="74.40" font-size="8.57" font-weight="normal" font-style="normal" fill="#333" color="#333" textLength="4.70" lengthAdjust="spacingAndGlyphs">9</text>
<text x="265.10" y="92.80" font-size="8.57" font-weight="normal" font-style="normal" fill="#333" color="#333" textLength="4.70" lengthAdjust="spacingAndGlyphs">6</text>
<text x="265.10" y="111.30" font-size="8.57" font-weight="normal" font-style="normal" fill="#333" color="#333" textLength="4.70" lengthAdjust="spacingAndGlyphs">3</text>
<text x="265.10" y="129.00" font-size="8.57" font-weight="normal" font-style="normal" fill="#333" color="#333" textLength="4.70" lengthAdjust="spacingAndGlyphs">0</text>
<rect x="285.30" y="114.00" width="18.80" height="12.70" fill="#55266f"/>
<rect x="304.10" y="116.00" width="20.00" height="10.70" fill="#b4032d"/>
<rect x="341.00" y="77.90" width="18.80" height="48.80" fill="#55266f"/>
<rect x="359.80" y="120.20" width="19.20" height="6.50" fill="#b4032d"/>
<rect x="396.30" y="75.60" width="18.90" height="51.10" fill="#55266f"/>
<rect x="415.20" y="91.50" width="18.80" height="35.20" fill="#b4032d"/>
<line x1="294.60" y1="112.70" x2="294.60" y2="114.00" stroke="#000" stroke-width="1.2"/>
<line x1="289.85" y1="112.70" x2="299.35" y2="112.70" stroke="#000" stroke-width="1.3"/>
<line x1="314.60" y1="114.00" x2="314.60" y2="116.00" stroke="#000" stroke-width="1.2"/>
<line x1="309.85" y1="114.00" x2="319.35" y2="114.00" stroke="#000" stroke-width="1.3"/>
<line x1="350.20" y1="76.00" x2="350.20" y2="77.90" stroke="#000" stroke-width="1.2"/>
<line x1="345.45" y1="76.00" x2="354.95" y2="76.00" stroke="#000" stroke-width="1.3"/>
<line x1="369.40" y1="118.80" x2="369.40" y2="120.20" stroke="#000" stroke-width="1.2"/>
<line x1="364.65" y1="118.80" x2="374.15" y2="118.80" stroke="#000" stroke-width="1.3"/>
<line x1="405.20" y1="72.30" x2="405.20" y2="75.60" stroke="#000" stroke-width="1.2"/>
<line x1="400.45" y1="72.30" x2="409.95" y2="72.30" stroke="#000" stroke-width="1.3"/>
<line x1="424.40" y1="86.00" x2="424.40" y2="91.50" stroke="#000" stroke-width="1.2"/>
<line x1="419.65" y1="86.00" x2="429.15" y2="86.00" stroke="#000" stroke-width="1.3"/>
<path d="M291.50 108.90V106.30H317.10V108.90" fill="none" stroke="#111" stroke-width="1.25"/>
<path d="M345.40 69.10V66.30H370.40V69.10" fill="none" stroke="#111" stroke-width="1.25"/>
<path d="M401.60 69.00V66.00H427.20V69.00" fill="none" stroke="#111" stroke-width="1.25"/>
<line x1="294.60" y1="126.70" x2="294.60" y2="129.00" stroke="#000" stroke-width="1.1"/>
<line x1="314.60" y1="126.70" x2="314.60" y2="129.00" stroke="#000" stroke-width="1.1"/>
<line x1="350.20" y1="126.70" x2="350.20" y2="129.00" stroke="#000" stroke-width="1.1"/>
<line x1="369.40" y1="126.70" x2="369.40" y2="129.00" stroke="#000" stroke-width="1.1"/>
<line x1="405.20" y1="126.70" x2="405.20" y2="129.00" stroke="#000" stroke-width="1.1"/>
<line x1="424.40" y1="126.70" x2="424.40" y2="129.00" stroke="#000" stroke-width="1.1"/>
<text x="299.20" y="103.80" font-size="8.00" font-weight="normal" font-style="normal" fill="#383838" color="#383838" textLength="10.60" lengthAdjust="spacingAndGlyphs">NS</text>
<path d="M354.43 57.93L354.43 60.57M355.57 58.59L353.29 59.91M355.57 59.91L353.29 58.59M357.90 57.93L357.90 60.57M359.04 58.59L356.76 59.91M359.04 59.91L356.76 58.59M361.37 57.93L361.37 60.57M362.51 58.59L360.23 59.91M362.51 59.91L360.23 58.59" stroke="#111" stroke-width="0.79" stroke-linecap="round"/>
<path d="M414.30 57.89L414.30 60.11M415.26 58.45L413.34 59.55M415.26 59.55L413.34 58.45" stroke="#111" stroke-width="0.75" stroke-linecap="round"/>
<text x="289.60" y="140.90" font-size="8.57" font-weight="normal" font-style="normal" fill="#383838" color="#383838" textLength="30.20" lengthAdjust="spacingAndGlyphs">Pro/Pre</text>
<text x="341.20" y="140.90" font-size="8.57" font-weight="normal" font-style="normal" fill="#383838" color="#383838" textLength="37.20" lengthAdjust="spacingAndGlyphs">Immature</text>
<text x="401.10" y="141.00" font-size="8.60" font-weight="normal" font-style="normal" fill="#383838" color="#383838" textLength="28.80" lengthAdjust="spacingAndGlyphs">mature</text>
<text transform="translate(241,127.2) rotate(-90)" font-size="9.2" fill="#333" color="#333" textLength="78.9" lengthAdjust="spacingAndGlyphs">CD45.2<tspan font-size="6.2" dy="-3.4">+</tspan><tspan dy="3.4">B220</tspan><tspan font-size="6.2" dy="-3.4">+</tspan><tspan dy="3.4"> cells</tspan></text>
<text transform="translate(254.6,97.6) rotate(-90)" font-size="10" fill="#333" color="#333" textLength="19.2" lengthAdjust="spacingAndGlyphs">(10<tspan font-size="6.5" dy="-3.8">6</tspan><tspan dy="3.8">)</tspan></text>
<text x="325.80" y="154.30" font-size="9.43" font-weight="normal" font-style="italic" fill="#383838" color="#383838" textLength="70.70" lengthAdjust="spacingAndGlyphs">Parenchymal cells</text>
<line x1="276.50" y1="159.70" x2="276.50" y2="237.00" stroke="#000" stroke-width="1.3"/>
<line x1="272.90" y1="236.40" x2="442.80" y2="236.40" stroke="#000" stroke-width="1.3"/>
<line x1="272.70" y1="162.80" x2="276.50" y2="162.80" stroke="#000" stroke-width="1.1"/>
<line x1="272.70" y1="181.30" x2="276.50" y2="181.30" stroke="#000" stroke-width="1.1"/>
<line x1="272.70" y1="199.80" x2="276.50" y2="199.80" stroke="#000" stroke-width="1.1"/>
<line x1="272.70" y1="218.30" x2="276.50" y2="218.30" stroke="#000" stroke-width="1.1"/>
<text x="264.10" y="165.80" font-size="8.57" font-weight="normal" font-style="normal" fill="#333" color="#333" textLength="4.70" lengthAdjust="spacingAndGlyphs">4</text>
<text x="264.10" y="184.60" font-size="8.57" font-weight="normal" font-style="normal" fill="#333" color="#333" textLength="4.70" lengthAdjust="spacingAndGlyphs">3</text>
<text x="264.10" y="203.30" font-size="8.57" font-weight="normal" font-style="normal" fill="#333" color="#333" textLength="4.70" lengthAdjust="spacingAndGlyphs">2</text>
<text x="264.10" y="221.80" font-size="8.57" font-weight="normal" font-style="normal" fill="#333" color="#333" textLength="4.70" lengthAdjust="spacingAndGlyphs">1</text>
<text x="264.10" y="239.80" font-size="8.57" font-weight="normal" font-style="normal" fill="#333" color="#333" textLength="4.70" lengthAdjust="spacingAndGlyphs">0</text>
<rect x="285.50" y="171.30" width="18.70" height="65.10" fill="#55266f"/>
<rect x="304.20" y="190.20" width="19.40" height="46.20" fill="#b4032d"/>
<rect x="340.60" y="223.70" width="18.70" height="12.70" fill="#55266f"/>
<rect x="359.30" y="225.50" width="19.40" height="10.90" fill="#b4032d"/>
<rect x="395.90" y="213.30" width="19.30" height="23.10" fill="#55266f"/>
<rect x="415.20" y="217.10" width="18.80" height="19.30" fill="#b4032d"/>
<line x1="294.80" y1="168.00" x2="294.80" y2="171.30" stroke="#000" stroke-width="1.2"/>
<line x1="290.55" y1="168.00" x2="299.05" y2="168.00" stroke="#000" stroke-width="1.3"/>
<line x1="314.40" y1="187.80" x2="314.40" y2="190.20" stroke="#000" stroke-width="1.2"/>
<line x1="309.65" y1="187.80" x2="319.15" y2="187.80" stroke="#000" stroke-width="1.3"/>
<line x1="350.00" y1="223.00" x2="350.00" y2="223.70" stroke="#000" stroke-width="1.2"/>
<line x1="346.50" y1="223.00" x2="353.50" y2="223.00" stroke="#000" stroke-width="1.3"/>
<line x1="369.20" y1="225.00" x2="369.20" y2="225.50" stroke="#000" stroke-width="1.2"/>
<line x1="366.20" y1="225.00" x2="372.20" y2="225.00" stroke="#000" stroke-width="1.3"/>
<line x1="405.60" y1="211.10" x2="405.60" y2="213.30" stroke="#000" stroke-width="1.2"/>
<line x1="401.60" y1="211.10" x2="409.60" y2="211.10" stroke="#000" stroke-width="1.3"/>
<line x1="424.60" y1="216.50" x2="424.60" y2="217.10" stroke="#000" stroke-width="1.2"/>
<line x1="421.10" y1="216.50" x2="428.10" y2="216.50" stroke="#000" stroke-width="1.3"/>
<path d="M292.10 164.20V161.40H318.10V164.20" fill="none" stroke="#111" stroke-width="1.25"/>
<path d="M344.30 218.20V215.30H369.60V218.20" fill="none" stroke="#111" stroke-width="1.25"/>
<path d="M403.60 208.30V205.40H428.90V208.30" fill="none" stroke="#111" stroke-width="1.25"/>
<line x1="294.80" y1="236.40" x2="294.80" y2="239.00" stroke="#000" stroke-width="1.1"/>
<line x1="314.40" y1="236.40" x2="314.40" y2="239.00" stroke="#000" stroke-width="1.1"/>
<line x1="350.00" y1="236.40" x2="350.00" y2="239.00" stroke="#000" stroke-width="1.1"/>
<line x1="369.20" y1="236.40" x2="369.20" y2="239.00" stroke="#000" stroke-width="1.1"/>
<line x1="405.60" y1="236.40" x2="405.60" y2="239.00" stroke="#000" stroke-width="1.1"/>
<line x1="424.60" y1="236.40" x2="424.60" y2="239.00" stroke="#000" stroke-width="1.1"/>
<path d="M303.55 153.03L303.55 155.67M304.69 153.69L302.41 155.01M304.69 155.01L302.41 153.69M306.65 153.03L306.65 155.67M307.79 153.69L305.51 155.01M307.79 155.01L305.51 153.69" stroke="#111" stroke-width="0.79" stroke-linecap="round"/>
<text x="351.60" y="213.10" font-size="8.29" font-weight="normal" font-style="normal" fill="#383838" color="#383838" textLength="10.40" lengthAdjust="spacingAndGlyphs">NS</text>
<text x="410.80" y="203.40" font-size="8.14" font-weight="normal" font-style="normal" fill="#383838" color="#383838" textLength="11.00" lengthAdjust="spacingAndGlyphs">NS</text>
<text x="289.90" y="251.60" font-size="8.57" font-weight="normal" font-style="normal" fill="#383838" color="#383838" textLength="30.20" lengthAdjust="spacingAndGlyphs">Pro/Pre</text>
<text x="340.60" y="251.60" font-size="8.57" font-weight="normal" font-style="normal" fill="#383838" color="#383838" textLength="38.10" lengthAdjust="spacingAndGlyphs">Immature</text>
<text x="401.40" y="251.60" font-size="8.60" font-weight="normal" font-style="normal" fill="#383838" color="#383838" textLength="27.50" lengthAdjust="spacingAndGlyphs">mature</text>
<text transform="translate(246.2,234.3) rotate(-90)" font-size="9.2" fill="#333" color="#333" textLength="73.8" lengthAdjust="spacingAndGlyphs">CD45.2<tspan font-size="6.2" dy="-2">-</tspan><tspan dy="2">B220</tspan><tspan font-size="6.2" dy="-3.4">+</tspan><tspan dy="3.4"> cells</tspan></text>
<text transform="translate(259.3,206.5) rotate(-90)" font-size="10" fill="#333" color="#333" textLength="19.2" lengthAdjust="spacingAndGlyphs">(10<tspan font-size="6.5" dy="-3.8">6</tspan><tspan dy="3.8">)</tspan></text>
<rect x="36.30" y="302.80" width="81.00" height="80.80" fill="none" stroke="#8c8c8c" stroke-width="0.9"/>
<line x1="34.90" y1="310.07" x2="36.70" y2="310.07" stroke="#666" stroke-width="0.8"/>
<line x1="34.90" y1="331.89" x2="36.70" y2="331.89" stroke="#666" stroke-width="0.8"/>
<line x1="34.90" y1="347.24" x2="36.70" y2="347.24" stroke="#666" stroke-width="0.8"/>
<line x1="34.90" y1="362.59" x2="36.70" y2="362.59" stroke="#666" stroke-width="0.8"/>
<line x1="34.90" y1="374.71" x2="36.70" y2="374.71" stroke="#666" stroke-width="0.8"/>
<line x1="44.40" y1="383.40" x2="44.40" y2="384.90" stroke="#888" stroke-width="0.7"/>
<line x1="52.50" y1="383.40" x2="52.50" y2="384.90" stroke="#888" stroke-width="0.7"/>
<line x1="63.03" y1="383.40" x2="63.03" y2="384.90" stroke="#888" stroke-width="0.7"/>
<line x1="76.80" y1="383.40" x2="76.80" y2="384.90" stroke="#888" stroke-width="0.7"/>
<line x1="88.14" y1="383.40" x2="88.14" y2="384.90" stroke="#888" stroke-width="0.7"/>
<line x1="101.10" y1="383.40" x2="101.10" y2="384.90" stroke="#888" stroke-width="0.7"/>
<line x1="110.82" y1="383.40" x2="110.82" y2="384.90" stroke="#888" stroke-width="0.7"/>
<line x1="37.3" y1="383.90" x2="84.90" y2="383.90" stroke="#444" stroke-width="0.8" stroke-dasharray="1.0 1.8 0.7 2.4 1.4 1.5"/>
<g clip-path="url(#cC1)">
<path d="M39.40 383.20 C39.40 372.93 43.41 367.40 48.30 367.40 C52.40 367.40 56.50 374.51 56.50 383.20Z" fill="#888" opacity="0.35" filter="url(#b3)"/>
<g fill="none" stroke="#222" stroke-width="0.65">
<path d="M38.30 383.20 C38.50 381.17 38.72 374.20 39.50 371.00 C40.28 367.80 41.45 365.52 43.00 364.00 C44.55 362.48 46.88 361.93 48.80 361.90 C50.72 361.87 52.83 362.87 54.50 363.80 C56.17 364.73 57.55 366.05 58.80 367.50 C60.05 368.95 61.00 370.87 62.00 372.50 C63.00 374.13 63.92 375.97 64.80 377.30 C65.68 378.63 66.52 379.52 67.30 380.50 C68.08 381.48 69.13 382.75 69.50 383.20"/>
<path d="M38.80 383.20 C38.80 370.65 43.26 363.90 48.70 363.90 C54.55 363.90 60.40 372.58 60.40 383.20"/>
<path d="M39.10 383.20 C39.10 371.76 43.33 365.60 48.50 365.60 C53.55 365.60 58.60 373.52 58.60 383.20"/>
<path d="M39.40 383.20 C39.40 373.06 43.41 367.60 48.30 367.60 C52.15 367.60 56.00 374.62 56.00 383.20"/>
<path d="M39.85 383.20 C39.85 374.43 43.61 369.70 48.20 369.70 C51.65 369.70 55.10 375.78 55.10 383.20"/>
<path d="M40.30 383.20 C40.30 375.79 43.81 371.80 48.10 371.80 C51.15 371.80 54.20 376.93 54.20 383.20"/>
<path d="M40.75 383.20 C40.75 377.16 44.01 373.90 48.00 373.90 C50.65 373.90 53.30 378.09 53.30 383.20"/>
<path d="M41.20 383.20 C41.20 378.52 44.21 376.00 47.90 376.00 C50.15 376.00 52.40 379.24 52.40 383.20"/>
<path d="M41.65 383.20 C41.65 379.88 44.42 378.10 47.80 378.10 C49.65 378.10 51.50 380.39 51.50 383.20"/>
<path d="M42.10 383.20 C42.10 381.25 44.62 380.20 47.70 380.20 C49.15 380.20 50.60 381.55 50.60 383.20"/>
</g>
<rect x="38.5" y="381.90" width="24.0" height="1.9" fill="#1a1a1a" filter="url(#b3)"/>
</g>
<rect x="62.40" y="354.60" width="31.20" height="28.00" fill="none" stroke="#b8323f" stroke-width="1.0"/>
<rect x="123.40" y="302.80" width="81.60" height="80.80" fill="none" stroke="#8c8c8c" stroke-width="0.9"/>
<line x1="122.00" y1="310.07" x2="123.80" y2="310.07" stroke="#666" stroke-width="0.8"/>
<line x1="122.00" y1="331.89" x2="123.80" y2="331.89" stroke="#666" stroke-width="0.8"/>
<line x1="122.00" y1="347.24" x2="123.80" y2="347.24" stroke="#666" stroke-width="0.8"/>
<line x1="122.00" y1="362.59" x2="123.80" y2="362.59" stroke="#666" stroke-width="0.8"/>
<line x1="122.00" y1="374.71" x2="123.80" y2="374.71" stroke="#666" stroke-width="0.8"/>
<line x1="131.56" y1="383.40" x2="131.56" y2="384.90" stroke="#888" stroke-width="0.7"/>
<line x1="139.72" y1="383.40" x2="139.72" y2="384.90" stroke="#888" stroke-width="0.7"/>
<line x1="150.33" y1="383.40" x2="150.33" y2="384.90" stroke="#888" stroke-width="0.7"/>
<line x1="164.20" y1="383.40" x2="164.20" y2="384.90" stroke="#888" stroke-width="0.7"/>
<line x1="175.62" y1="383.40" x2="175.62" y2="384.90" stroke="#888" stroke-width="0.7"/>
<line x1="188.68" y1="383.40" x2="188.68" y2="384.90" stroke="#888" stroke-width="0.7"/>
<line x1="198.47" y1="383.40" x2="198.47" y2="384.90" stroke="#888" stroke-width="0.7"/>
<line x1="124.4" y1="383.90" x2="172.36" y2="383.90" stroke="#444" stroke-width="0.8" stroke-dasharray="1.0 1.8 0.7 2.4 1.4 1.5"/>
<g clip-path="url(#cC2)">
<path d="M126.90 383.20 C126.90 372.93 130.41 367.40 134.70 367.40 C139.60 367.40 144.50 374.51 144.50 383.20Z" fill="#888" opacity="0.35" filter="url(#b3)"/>
<g fill="none" stroke="#222" stroke-width="0.65">
<path d="M125.90 383.20 C126.08 381.17 126.32 374.20 127.00 371.00 C127.68 367.80 128.63 365.50 130.00 364.00 C131.37 362.50 133.45 361.97 135.20 362.00 C136.95 362.03 138.80 363.23 140.50 364.20 C142.20 365.17 143.90 366.67 145.40 367.80 C146.90 368.93 148.37 370.00 149.50 371.00 C150.63 372.00 151.25 372.55 152.20 373.80 C153.15 375.05 154.40 376.93 155.20 378.50 C156.00 380.07 156.70 382.42 157.00 383.20"/>
<path d="M126.30 383.20 C126.30 370.72 130.26 364.00 135.10 364.00 C142.15 364.00 149.20 372.64 149.20 383.20"/>
<path d="M126.60 383.20 C126.60 371.82 130.34 365.70 134.90 365.70 C140.95 365.70 147.00 373.57 147.00 383.20"/>
<path d="M126.90 383.20 C126.90 373.06 130.41 367.60 134.70 367.60 C139.35 367.60 144.00 374.62 144.00 383.20"/>
<path d="M127.35 383.20 C127.35 374.43 130.61 369.70 134.60 369.70 C138.82 369.70 143.05 375.78 143.05 383.20"/>
<path d="M127.80 383.20 C127.80 375.79 130.81 371.80 134.50 371.80 C138.30 371.80 142.10 376.93 142.10 383.20"/>
<path d="M128.25 383.20 C128.25 377.16 131.02 373.90 134.40 373.90 C137.77 373.90 141.15 378.09 141.15 383.20"/>
<path d="M128.70 383.20 C128.70 378.52 131.22 376.00 134.30 376.00 C137.25 376.00 140.20 379.24 140.20 383.20"/>
<path d="M129.15 383.20 C129.15 379.88 131.42 378.10 134.20 378.10 C136.72 378.10 139.25 380.39 139.25 383.20"/>
<path d="M129.60 383.20 C129.60 381.25 131.62 380.20 134.10 380.20 C136.20 380.20 138.30 381.55 138.30 383.20"/>
</g>
<rect x="125.5" y="381.90" width="25.5" height="1.9" fill="#1a1a1a" filter="url(#b3)"/>
</g>
<rect x="150.10" y="354.50" width="31.80" height="27.90" fill="none" stroke="#b8323f" stroke-width="1.0"/>
<rect x="35.30" y="416.50" width="82.00" height="80.80" fill="none" stroke="#8c8c8c" stroke-width="0.9"/>
<line x1="33.90" y1="423.77" x2="35.70" y2="423.77" stroke="#666" stroke-width="0.8"/>
<line x1="33.90" y1="445.59" x2="35.70" y2="445.59" stroke="#666" stroke-width="0.8"/>
<line x1="33.90" y1="460.94" x2="35.70" y2="460.94" stroke="#666" stroke-width="0.8"/>
<line x1="33.90" y1="476.29" x2="35.70" y2="476.29" stroke="#666" stroke-width="0.8"/>
<line x1="33.90" y1="488.41" x2="35.70" y2="488.41" stroke="#666" stroke-width="0.8"/>
<line x1="43.50" y1="497.10" x2="43.50" y2="498.60" stroke="#888" stroke-width="0.7"/>
<line x1="51.70" y1="497.10" x2="51.70" y2="498.60" stroke="#888" stroke-width="0.7"/>
<line x1="62.36" y1="497.10" x2="62.36" y2="498.60" stroke="#888" stroke-width="0.7"/>
<line x1="76.30" y1="497.10" x2="76.30" y2="498.60" stroke="#888" stroke-width="0.7"/>
<line x1="87.78" y1="497.10" x2="87.78" y2="498.60" stroke="#888" stroke-width="0.7"/>
<line x1="100.90" y1="497.10" x2="100.90" y2="498.60" stroke="#888" stroke-width="0.7"/>
<line x1="110.74" y1="497.10" x2="110.74" y2="498.60" stroke="#888" stroke-width="0.7"/>
<line x1="36.3" y1="497.60" x2="84.50" y2="497.60" stroke="#444" stroke-width="0.8" stroke-dasharray="1.0 1.8 0.7 2.4 1.4 1.5"/>
<g clip-path="url(#cC3)">
<path d="M38.80 497.00 C38.80 484.52 42.89 477.80 47.90 477.80 C53.20 477.80 58.50 486.44 58.50 497.00Z" fill="#888" opacity="0.35" filter="url(#b3)"/>
<g fill="none" stroke="#222" stroke-width="0.65">
<path d="M37.60 497.00 C37.75 494.83 37.77 487.67 38.50 484.00 C39.23 480.33 40.42 476.97 42.00 475.00 C43.58 473.03 46.33 472.48 48.00 472.20 C49.67 471.92 50.70 472.82 52.00 473.30 C53.30 473.78 54.30 474.58 55.80 475.10 C57.30 475.62 59.57 475.75 61.00 476.40 C62.43 477.05 63.40 478.13 64.40 479.00 C65.40 479.87 66.13 480.95 67.00 481.60 C67.87 482.25 69.02 482.18 69.60 482.90 C70.18 483.62 70.22 484.68 70.50 485.90 C70.78 487.12 70.73 488.90 71.30 490.20 C71.87 491.50 72.73 492.57 73.90 493.70 C75.07 494.83 77.57 496.45 78.30 497.00"/>
<path d="M38.00 497.00 C38.17 495.00 38.25 488.42 39.00 485.00 C39.75 481.58 41.00 478.30 42.50 476.50 C44.00 474.70 46.50 474.45 48.00 474.20 C49.50 473.95 50.35 474.50 51.50 475.00 C52.65 475.50 53.75 476.25 54.90 477.20 C56.05 478.15 57.38 479.25 58.40 480.70 C59.42 482.15 60.28 484.18 61.00 485.90 C61.72 487.62 62.28 489.15 62.70 491.00 C63.12 492.85 63.37 496.00 63.50 497.00"/>
<path d="M38.40 497.00 C38.40 483.35 42.72 476.00 48.00 476.00 C54.25 476.00 60.50 485.45 60.50 497.00"/>
<path d="M38.80 497.00 C38.80 484.52 42.89 477.80 47.90 477.80 C53.20 477.80 58.50 486.44 58.50 497.00"/>
<path d="M39.25 497.00 C39.25 485.75 43.10 479.70 47.80 479.70 C52.55 479.70 57.30 487.49 57.30 497.00"/>
<path d="M39.70 497.00 C39.70 486.99 43.30 481.60 47.70 481.60 C51.90 481.60 56.10 488.53 56.10 497.00"/>
<path d="M40.15 497.00 C40.15 488.23 43.50 483.50 47.60 483.50 C51.25 483.50 54.90 489.57 54.90 497.00"/>
<path d="M40.60 497.00 C40.60 489.46 43.70 485.40 47.50 485.40 C50.60 485.40 53.70 490.62 53.70 497.00"/>
<path d="M41.05 497.00 C41.05 490.69 43.91 487.30 47.40 487.30 C49.95 487.30 52.50 491.67 52.50 497.00"/>
<path d="M41.50 497.00 C41.50 491.93 44.11 489.20 47.30 489.20 C49.30 489.20 51.30 492.71 51.30 497.00"/>
<path d="M41.95 497.00 C41.95 493.17 44.31 491.10 47.20 491.10 C48.65 491.10 50.10 493.75 50.10 497.00"/>
</g>
<rect x="37.8" y="495.60" width="23.700000000000003" height="1.9" fill="#1a1a1a" filter="url(#b3)"/>
</g>
<rect x="62.00" y="468.20" width="31.60" height="28.10" fill="none" stroke="#b8323f" stroke-width="1.0"/>
<rect x="123.30" y="416.50" width="81.30" height="81.00" fill="none" stroke="#8c8c8c" stroke-width="0.9"/>
<line x1="121.90" y1="423.79" x2="123.70" y2="423.79" stroke="#666" stroke-width="0.8"/>
<line x1="121.90" y1="445.66" x2="123.70" y2="445.66" stroke="#666" stroke-width="0.8"/>
<line x1="121.90" y1="461.05" x2="123.70" y2="461.05" stroke="#666" stroke-width="0.8"/>
<line x1="121.90" y1="476.44" x2="123.70" y2="476.44" stroke="#666" stroke-width="0.8"/>
<line x1="121.90" y1="488.59" x2="123.70" y2="488.59" stroke="#666" stroke-width="0.8"/>
<line x1="131.43" y1="497.30" x2="131.43" y2="498.80" stroke="#888" stroke-width="0.7"/>
<line x1="139.56" y1="497.30" x2="139.56" y2="498.80" stroke="#888" stroke-width="0.7"/>
<line x1="150.13" y1="497.30" x2="150.13" y2="498.80" stroke="#888" stroke-width="0.7"/>
<line x1="163.95" y1="497.30" x2="163.95" y2="498.80" stroke="#888" stroke-width="0.7"/>
<line x1="175.33" y1="497.30" x2="175.33" y2="498.80" stroke="#888" stroke-width="0.7"/>
<line x1="188.34" y1="497.30" x2="188.34" y2="498.80" stroke="#888" stroke-width="0.7"/>
<line x1="198.10" y1="497.30" x2="198.10" y2="498.80" stroke="#888" stroke-width="0.7"/>
<line x1="124.3" y1="497.80" x2="172.08" y2="497.80" stroke="#444" stroke-width="0.8" stroke-dasharray="1.0 1.8 0.7 2.4 1.4 1.5"/>
<g clip-path="url(#cC4)">
<path d="M128.80 497.00 C128.80 487.64 131.81 482.60 135.50 482.60 C141.75 482.60 148.00 489.08 148.00 497.00Z" fill="#888" opacity="0.35" filter="url(#b3)"/>
<g fill="none" stroke="#222" stroke-width="0.65">
<path d="M126.80 497.00 C126.87 495.17 126.93 489.08 127.20 486.00 C127.47 482.92 127.85 480.40 128.40 478.50 C128.95 476.60 129.65 475.48 130.50 474.60 C131.35 473.72 132.42 473.40 133.50 473.20 C134.58 473.00 135.42 473.27 137.00 473.40 C138.58 473.53 141.17 473.85 143.00 474.00 C144.83 474.15 146.83 474.30 148.00 474.30 C149.17 474.30 147.77 474.02 150.00 474.00 C152.23 473.98 159.37 473.70 161.40 474.20 C163.43 474.70 162.02 475.20 162.20 477.00 C162.38 478.80 162.42 482.22 162.50 485.00 C162.58 487.78 162.28 491.70 162.70 493.70 C163.12 495.70 164.62 496.45 165.00 497.00"/>
<path d="M127.20 497.00 C127.27 495.33 127.32 489.83 127.60 487.00 C127.88 484.17 128.33 481.78 128.90 480.00 C129.47 478.22 130.15 477.13 131.00 476.30 C131.85 475.47 132.92 475.17 134.00 475.00 C135.08 474.83 136.00 475.10 137.50 475.30 C139.00 475.50 141.42 475.92 143.00 476.20 C144.58 476.48 146.00 476.90 147.00 477.00 C148.00 477.10 147.25 476.83 149.00 476.80 C150.75 476.77 156.00 476.43 157.50 476.80 C159.00 477.17 157.87 476.80 158.00 479.00 C158.13 481.20 158.13 487.00 158.30 490.00 C158.47 493.00 158.88 495.83 159.00 497.00"/>
<path d="M127.60 497.00 C127.67 495.50 127.70 490.58 128.00 488.00 C128.30 485.42 128.82 483.17 129.40 481.50 C129.98 479.83 130.65 478.77 131.50 478.00 C132.35 477.23 133.42 477.02 134.50 476.90 C135.58 476.78 136.58 477.03 138.00 477.30 C139.42 477.57 141.58 478.13 143.00 478.50 C144.42 478.87 145.50 479.38 146.50 479.50 C147.50 479.62 147.45 479.28 149.00 479.20 C150.55 479.12 154.60 478.70 155.80 479.00 C157.00 479.30 156.08 479.17 156.20 481.00 C156.32 482.83 156.37 487.33 156.50 490.00 C156.63 492.67 156.92 495.83 157.00 497.00"/>
<path d="M128.00 497.00 C128.08 495.67 128.17 491.33 128.50 489.00 C128.83 486.67 129.42 484.53 130.00 483.00 C130.58 481.47 131.17 480.50 132.00 479.80 C132.83 479.10 133.83 478.85 135.00 478.80 C136.17 478.75 137.50 479.05 139.00 479.50 C140.50 479.95 142.50 480.83 144.00 481.50 C145.50 482.17 146.83 483.08 148.00 483.50 C149.17 483.92 150.03 483.88 151.00 484.00 C151.97 484.12 153.25 483.70 153.80 484.20 C154.35 484.70 154.18 485.70 154.30 487.00 C154.42 488.30 154.38 490.33 154.50 492.00 C154.62 493.67 154.92 496.17 155.00 497.00"/>
<path d="M128.40 497.00 C128.50 495.83 128.65 492.08 129.00 490.00 C129.35 487.92 129.92 485.90 130.50 484.50 C131.08 483.10 131.70 482.25 132.50 481.60 C133.30 480.95 134.22 480.62 135.30 480.60 C136.38 480.58 137.72 481.02 139.00 481.50 C140.28 481.98 141.67 482.67 143.00 483.50 C144.33 484.33 145.83 485.58 147.00 486.50 C148.17 487.42 149.20 488.25 150.00 489.00 C150.80 489.75 151.42 489.67 151.80 491.00 C152.18 492.33 152.22 496.00 152.30 497.00"/>
<path d="M128.80 497.00 C128.80 487.64 131.81 482.60 135.50 482.60 C141.75 482.60 148.00 489.08 148.00 497.00"/>
<path d="M129.15 497.00 C129.15 488.94 131.96 484.60 135.40 484.60 C141.10 484.60 146.80 490.18 146.80 497.00"/>
<path d="M129.50 497.00 C129.50 490.24 132.11 486.60 135.30 486.60 C140.45 486.60 145.60 491.28 145.60 497.00"/>
<path d="M129.85 497.00 C129.85 491.54 132.26 488.60 135.20 488.60 C139.80 488.60 144.40 492.38 144.40 497.00"/>
<path d="M130.20 497.00 C130.20 492.84 132.41 490.60 135.10 490.60 C139.15 490.60 143.20 493.48 143.20 497.00"/>
<path d="M130.55 497.00 C130.55 494.14 132.55 492.60 135.00 492.60 C138.50 492.60 142.00 494.58 142.00 497.00"/>
<path d="M130.90 497.00 C130.90 495.44 132.70 494.60 134.90 494.60 C137.85 494.60 140.80 495.68 140.80 497.00"/>
</g>
<rect x="126.0" y="495.60" width="24.5" height="1.9" fill="#1a1a1a" filter="url(#b3)"/>
</g>
<rect x="149.50" y="468.20" width="32.20" height="28.10" fill="none" stroke="#b8323f" stroke-width="1.0"/>
<text x="61.00" y="296.90" font-size="9.29" font-weight="normal" font-style="normal" fill="#383838" color="#383838" textLength="29.80" lengthAdjust="spacingAndGlyphs">Control</text>
<text x="137.50" y="297.00" font-size="9.57" font-weight="normal" font-style="normal" fill="#383838" color="#383838" textLength="51.30" lengthAdjust="spacingAndGlyphs">miR-125b Tg</text>
<text x="40.20" y="312.80" font-size="7.71" font-weight="normal" font-style="normal" fill="#383838" color="#383838" textLength="28.00" lengthAdjust="spacingAndGlyphs">Pro/Pre</text>
<text x="79.80" y="364.10" font-size="8.86" font-weight="normal" font-style="normal" fill="#222" color="#222" textLength="11.20" lengthAdjust="spacingAndGlyphs">3.9</text>
<text x="166.90" y="364.40" font-size="9.14" font-weight="normal" font-style="normal" fill="#222" color="#222" textLength="11.20" lengthAdjust="spacingAndGlyphs">4.2</text>
<text x="60.70" y="410.30" font-size="9.00" font-weight="normal" font-style="normal" fill="#383838" color="#383838" textLength="29.60" lengthAdjust="spacingAndGlyphs">Control</text>
<text x="137.50" y="410.60" font-size="9.43" font-weight="normal" font-style="normal" fill="#383838" color="#383838" textLength="51.70" lengthAdjust="spacingAndGlyphs">miR-125b Tg</text>
<text x="40.20" y="427.60" font-size="8.86" font-weight="normal" font-style="normal" fill="#383838" color="#383838" textLength="35.90" lengthAdjust="spacingAndGlyphs">Immature</text>
<text x="75.70" y="478.20" font-size="9.00" font-weight="normal" font-style="normal" fill="#222" color="#222" textLength="15.20" lengthAdjust="spacingAndGlyphs">11.3</text>
<text x="163.30" y="478.00" font-size="8.71" font-weight="normal" font-style="normal" fill="#222" color="#222" textLength="15.20" lengthAdjust="spacingAndGlyphs">17.3</text>
<line x1="24.00" y1="395.20" x2="24.00" y2="357.50" stroke="#000" stroke-width="1.3"/>
<path d="M24.0 353.00 L21.5 359.00 L26.5 359.00 Z" fill="#000"/>
<line x1="23.40" y1="394.60" x2="60.50" y2="394.60" stroke="#000" stroke-width="1.3"/>
<path d="M65.8 394.60 L59.8 392.10 L59.8 397.10 Z" fill="#000"/>
<text x="69.30" y="397.40" font-size="9.14" font-weight="normal" font-style="normal" fill="#222" color="#222" textLength="31.30" lengthAdjust="spacingAndGlyphs" style="stroke-width:0.5px">Annexin V</text>
<text transform="translate(28.1,349.50) rotate(-90)" font-size="8.9" fill="#222" color="#222" style="stroke-width:0.5px" textLength="13.20" lengthAdjust="spacingAndGlyphs">AAD</text>
<line x1="24.00" y1="508.40" x2="24.00" y2="471.30" stroke="#000" stroke-width="1.3"/>
<path d="M24.0 466.80 L21.5 472.80 L26.5 472.80 Z" fill="#000"/>
<line x1="23.40" y1="507.80" x2="60.50" y2="507.80" stroke="#000" stroke-width="1.3"/>
<path d="M65.8 507.80 L59.8 505.30 L59.8 510.30 Z" fill="#000"/>
<text x="69.30" y="510.60" font-size="9.14" font-weight="normal" font-style="normal" fill="#222" color="#222" textLength="31.30" lengthAdjust="spacingAndGlyphs" style="stroke-width:0.5px">Annexin V</text>
<text transform="translate(28.1,462.80) rotate(-90)" font-size="8.9" fill="#222" color="#222" style="stroke-width:0.5px" textLength="13.20" lengthAdjust="spacingAndGlyphs">AAD</text>
<rect x="327.40" y="270.90" width="14.80" height="8.00" fill="#55266f"/>
<text x="345.80" y="277.90" font-size="9.14" font-weight="normal" font-style="normal" fill="#383838" color="#383838" textLength="14.40" lengthAdjust="spacingAndGlyphs">PBS</text>
<rect x="366.90" y="270.90" width="14.80" height="8.00" fill="#b4032d"/>
<text x="385.10" y="277.90" font-size="9.14" font-weight="normal" font-style="normal" fill="#383838" color="#383838" textLength="37.90" lengthAdjust="spacingAndGlyphs">AMD3100</text>
<line x1="276.40" y1="299.70" x2="276.40" y2="377.40" stroke="#000" stroke-width="1.3"/>
<line x1="272.80" y1="376.80" x2="365.30" y2="376.80" stroke="#000" stroke-width="1.3"/>
<line x1="272.60" y1="303.10" x2="276.40" y2="303.10" stroke="#000" stroke-width="1.1"/>
<line x1="272.60" y1="321.50" x2="276.40" y2="321.50" stroke="#000" stroke-width="1.1"/>
<line x1="272.60" y1="339.90" x2="276.40" y2="339.90" stroke="#000" stroke-width="1.1"/>
<line x1="272.60" y1="358.40" x2="276.40" y2="358.40" stroke="#000" stroke-width="1.1"/>
<text x="254.70" y="306.30" font-size="8.57" font-weight="normal" font-style="normal" fill="#333" color="#333" textLength="15.30" lengthAdjust="spacingAndGlyphs">100</text>
<text x="259.80" y="324.70" font-size="8.57" font-weight="normal" font-style="normal" fill="#333" color="#333" textLength="10.20" lengthAdjust="spacingAndGlyphs">75</text>
<text x="259.80" y="343.10" font-size="8.57" font-weight="normal" font-style="normal" fill="#333" color="#333" textLength="10.20" lengthAdjust="spacingAndGlyphs">50</text>
<text x="259.80" y="361.60" font-size="8.57" font-weight="normal" font-style="normal" fill="#333" color="#333" textLength="10.20" lengthAdjust="spacingAndGlyphs">25</text>
<text x="264.90" y="379.50" font-size="8.57" font-weight="normal" font-style="normal" fill="#333" color="#333" textLength="5.10" lengthAdjust="spacingAndGlyphs">0</text>
<rect x="280.90" y="364.60" width="18.70" height="12.20" fill="#55266f"/>
<rect x="299.60" y="339.70" width="19.40" height="37.10" fill="#b4032d"/>
<rect x="326.30" y="374.20" width="18.70" height="2.60" fill="#55266f"/>
<rect x="345.00" y="370.30" width="20.30" height="6.50" fill="#b4032d"/>
<line x1="290.20" y1="363.40" x2="290.20" y2="364.60" stroke="#000" stroke-width="1.2"/>
<line x1="286.70" y1="363.40" x2="293.70" y2="363.40" stroke="#000" stroke-width="1.3"/>
<line x1="309.30" y1="337.80" x2="309.30" y2="339.70" stroke="#000" stroke-width="1.2"/>
<line x1="304.40" y1="337.80" x2="314.20" y2="337.80" stroke="#000" stroke-width="1.3"/>
<line x1="335.60" y1="373.40" x2="335.60" y2="374.20" stroke="#000" stroke-width="1.2"/>
<line x1="332.60" y1="373.40" x2="338.60" y2="373.40" stroke="#000" stroke-width="1.3"/>
<line x1="355.10" y1="369.40" x2="355.10" y2="370.30" stroke="#000" stroke-width="1.2"/>
<line x1="351.10" y1="369.40" x2="359.10" y2="369.40" stroke="#000" stroke-width="1.3"/>
<path d="M291.20 321.00V318.00H336.70V321.00" fill="none" stroke="#111" stroke-width="1.25"/>
<path d="M309.30 335.30V332.30H354.90V335.30" fill="none" stroke="#111" stroke-width="1.25"/>
<line x1="290.25" y1="376.80" x2="290.25" y2="380.00" stroke="#000" stroke-width="1.1"/>
<line x1="309.30" y1="376.80" x2="309.30" y2="380.00" stroke="#000" stroke-width="1.1"/>
<line x1="335.65" y1="376.80" x2="335.65" y2="380.00" stroke="#000" stroke-width="1.1"/>
<line x1="355.15" y1="376.80" x2="355.15" y2="380.00" stroke="#000" stroke-width="1.1"/>
<line x1="278.80" y1="383.30" x2="320.80" y2="383.30" stroke="#000" stroke-width="1.2"/>
<line x1="325.40" y1="383.30" x2="366.90" y2="383.30" stroke="#000" stroke-width="1.2"/>
<text x="285.20" y="394.40" font-size="8.71" font-weight="normal" font-style="normal" fill="#383838" color="#383838" textLength="30.20" lengthAdjust="spacingAndGlyphs">Control</text>
<text x="320.80" y="394.40" font-size="8.71" font-weight="normal" font-style="normal" fill="#383838" color="#383838" textLength="51.30" lengthAdjust="spacingAndGlyphs">miR-125b Tg</text>
<text transform="translate(249.10,350.40) rotate(-90)" font-size="10" fill="#333" color="#333" textLength="24.20" lengthAdjust="spacingAndGlyphs">(X10<tspan font-size="6.6" dy="-4.2">3</tspan><tspan dy="4.2">)</tspan></text>
<path d="M312.35 309.10L312.35 311.40M313.34 309.68L311.36 310.82M313.34 310.82L311.36 309.68M315.25 309.10L315.25 311.40M316.24 309.68L314.26 310.82M316.24 310.82L314.26 309.68" stroke="#111" stroke-width="0.75" stroke-linecap="round"/>
<path d="M328.48 323.59L328.48 325.81M329.44 324.15L327.53 325.25M329.44 325.25L327.53 324.15M331.85 323.59L331.85 325.81M332.81 324.15L330.89 325.25M332.81 325.25L330.89 324.15M335.22 323.59L335.22 325.81M336.17 324.15L334.26 325.25M336.17 325.25L334.26 324.15" stroke="#111" stroke-width="0.75" stroke-linecap="round"/>
<text x="300.3" y="295" font-size="9.2" fill="#333" color="#333" textLength="44.7" lengthAdjust="spacingAndGlyphs">B220<tspan font-size="6" dy="-3.3">+</tspan><tspan dy="3.3"> cells</tspan></text>
<line x1="416.20" y1="299.70" x2="416.20" y2="377.40" stroke="#000" stroke-width="1.3"/>
<line x1="412.60" y1="376.80" x2="505.30" y2="376.80" stroke="#000" stroke-width="1.3"/>
<line x1="412.40" y1="303.10" x2="416.20" y2="303.10" stroke="#000" stroke-width="1.1"/>
<line x1="412.40" y1="321.50" x2="416.20" y2="321.50" stroke="#000" stroke-width="1.1"/>
<line x1="412.40" y1="339.90" x2="416.20" y2="339.90" stroke="#000" stroke-width="1.1"/>
<line x1="412.40" y1="358.40" x2="416.20" y2="358.40" stroke="#000" stroke-width="1.1"/>
<text x="399.20" y="306.30" font-size="8.57" font-weight="normal" font-style="normal" fill="#333" color="#333" textLength="10.20" lengthAdjust="spacingAndGlyphs">40</text>
<text x="399.20" y="324.70" font-size="8.57" font-weight="normal" font-style="normal" fill="#333" color="#333" textLength="10.20" lengthAdjust="spacingAndGlyphs">30</text>
<text x="399.20" y="343.10" font-size="8.57" font-weight="normal" font-style="normal" fill="#333" color="#333" textLength="10.20" lengthAdjust="spacingAndGlyphs">20</text>
<text x="399.20" y="361.60" font-size="8.57" font-weight="normal" font-style="normal" fill="#333" color="#333" textLength="10.20" lengthAdjust="spacingAndGlyphs">10</text>
<text x="404.30" y="379.50" font-size="8.57" font-weight="normal" font-style="normal" fill="#333" color="#333" textLength="5.10" lengthAdjust="spacingAndGlyphs">0</text>
<rect x="420.10" y="364.60" width="19.50" height="12.20" fill="#55266f"/>
<rect x="439.60" y="343.00" width="19.00" height="33.80" fill="#b4032d"/>
<rect x="466.10" y="376.40" width="19.70" height="0.40" fill="#55266f"/>
<rect x="485.80" y="369.00" width="19.00" height="7.80" fill="#b4032d"/>
<line x1="429.90" y1="362.50" x2="429.90" y2="364.60" stroke="#000" stroke-width="1.2"/>
<line x1="426.00" y1="362.50" x2="433.80" y2="362.50" stroke="#000" stroke-width="1.3"/>
<line x1="449.10" y1="335.20" x2="449.10" y2="343.00" stroke="#000" stroke-width="1.2"/>
<line x1="444.55" y1="335.20" x2="453.65" y2="335.20" stroke="#000" stroke-width="1.3"/>
<line x1="475.90" y1="376.40" x2="475.90" y2="376.40" stroke="#000" stroke-width="1.2"/>
<line x1="475.90" y1="376.40" x2="475.90" y2="376.40" stroke="#000" stroke-width="1.3"/>
<line x1="495.30" y1="368.20" x2="495.30" y2="369.00" stroke="#000" stroke-width="1.2"/>
<line x1="491.30" y1="368.20" x2="499.30" y2="368.20" stroke="#000" stroke-width="1.3"/>
<path d="M429.20 319.00V315.80H474.90V319.00" fill="none" stroke="#111" stroke-width="1.25"/>
<path d="M447.60 333.30V330.00H493.10V333.30" fill="none" stroke="#111" stroke-width="1.25"/>
<line x1="429.85" y1="376.80" x2="429.85" y2="380.00" stroke="#000" stroke-width="1.1"/>
<line x1="449.10" y1="376.80" x2="449.10" y2="380.00" stroke="#000" stroke-width="1.1"/>
<line x1="475.95" y1="376.80" x2="475.95" y2="380.00" stroke="#000" stroke-width="1.1"/>
<line x1="495.30" y1="376.80" x2="495.30" y2="380.00" stroke="#000" stroke-width="1.1"/>
<line x1="418.30" y1="383.30" x2="460.50" y2="383.30" stroke="#000" stroke-width="1.2"/>
<line x1="464.60" y1="383.30" x2="506.70" y2="383.30" stroke="#000" stroke-width="1.2"/>
<text x="424.90" y="394.50" font-size="8.57" font-weight="normal" font-style="normal" fill="#383838" color="#383838" textLength="30.30" lengthAdjust="spacingAndGlyphs">Control</text>
<text x="460.20" y="394.50" font-size="8.57" font-weight="normal" font-style="normal" fill="#383838" color="#383838" textLength="50.80" lengthAdjust="spacingAndGlyphs">miR-125b Tg</text>
<text transform="translate(388.90,350.40) rotate(-90)" font-size="10" fill="#333" color="#333" textLength="24.20" lengthAdjust="spacingAndGlyphs">(X10<tspan font-size="6.6" dy="-4.2">3</tspan><tspan dy="4.2">)</tspan></text>
<path d="M448.57 307.50L448.57 309.80M449.56 308.08L447.57 309.22M449.56 309.22L447.57 308.08M451.90 307.50L451.90 309.80M452.89 308.08L450.91 309.22M452.89 309.22L450.91 308.08M455.23 307.50L455.23 309.80M456.23 308.08L454.24 309.22M456.23 309.22L454.24 308.08" stroke="#111" stroke-width="0.75" stroke-linecap="round"/>
<path d="M470.75 322.27L470.75 324.23M471.60 322.76L469.90 323.74M471.60 323.74L469.90 322.76" stroke="#111" stroke-width="0.75" stroke-linecap="round"/>
<text x="428.60" y="295.00" font-size="9.29" font-weight="normal" font-style="normal" fill="#383838" color="#383838" textLength="67.60" lengthAdjust="spacingAndGlyphs">Immature B cells</text>
<line x1="276.40" y1="417.00" x2="276.40" y2="494.20" stroke="#000" stroke-width="1.3"/>
<line x1="272.80" y1="493.60" x2="365.30" y2="493.60" stroke="#000" stroke-width="1.3"/>
<line x1="272.60" y1="420.20" x2="276.40" y2="420.20" stroke="#000" stroke-width="1.1"/>
<line x1="272.60" y1="438.50" x2="276.40" y2="438.50" stroke="#000" stroke-width="1.1"/>
<line x1="272.60" y1="456.90" x2="276.40" y2="456.90" stroke="#000" stroke-width="1.1"/>
<line x1="272.60" y1="475.20" x2="276.40" y2="475.20" stroke="#000" stroke-width="1.1"/>
<text x="259.80" y="423.40" font-size="8.57" font-weight="normal" font-style="normal" fill="#333" color="#333" textLength="10.20" lengthAdjust="spacingAndGlyphs">40</text>
<text x="259.80" y="441.70" font-size="8.57" font-weight="normal" font-style="normal" fill="#333" color="#333" textLength="10.20" lengthAdjust="spacingAndGlyphs">30</text>
<text x="259.80" y="460.10" font-size="8.57" font-weight="normal" font-style="normal" fill="#333" color="#333" textLength="10.20" lengthAdjust="spacingAndGlyphs">20</text>
<text x="259.80" y="478.40" font-size="8.57" font-weight="normal" font-style="normal" fill="#333" color="#333" textLength="10.20" lengthAdjust="spacingAndGlyphs">10</text>
<text x="264.90" y="496.30" font-size="8.57" font-weight="normal" font-style="normal" fill="#333" color="#333" textLength="5.10" lengthAdjust="spacingAndGlyphs">0</text>
<rect x="280.90" y="478.50" width="18.70" height="15.10" fill="#55266f"/>
<rect x="299.60" y="449.40" width="19.40" height="44.20" fill="#b4032d"/>
<rect x="326.30" y="473.80" width="18.70" height="19.80" fill="#55266f"/>
<rect x="345.00" y="440.10" width="20.30" height="53.50" fill="#b4032d"/>
<line x1="290.20" y1="477.30" x2="290.20" y2="478.50" stroke="#000" stroke-width="1.2"/>
<line x1="286.70" y1="477.30" x2="293.70" y2="477.30" stroke="#000" stroke-width="1.3"/>
<line x1="309.30" y1="444.80" x2="309.30" y2="449.40" stroke="#000" stroke-width="1.2"/>
<line x1="304.50" y1="444.80" x2="314.10" y2="444.80" stroke="#000" stroke-width="1.3"/>
<line x1="335.60" y1="473.20" x2="335.60" y2="473.80" stroke="#000" stroke-width="1.2"/>
<line x1="332.10" y1="473.20" x2="339.10" y2="473.20" stroke="#000" stroke-width="1.3"/>
<line x1="355.10" y1="437.00" x2="355.10" y2="440.10" stroke="#000" stroke-width="1.2"/>
<line x1="350.20" y1="437.00" x2="360.00" y2="437.00" stroke="#000" stroke-width="1.3"/>
<path d="M290.00 443.30V440.10H335.40V443.30" fill="none" stroke="#111" stroke-width="1.25"/>
<path d="M308.90 429.00V425.80H354.90V429.00" fill="none" stroke="#111" stroke-width="1.25"/>
<line x1="290.25" y1="493.60" x2="290.25" y2="496.80" stroke="#000" stroke-width="1.1"/>
<line x1="309.30" y1="493.60" x2="309.30" y2="496.80" stroke="#000" stroke-width="1.1"/>
<line x1="335.65" y1="493.60" x2="335.65" y2="496.80" stroke="#000" stroke-width="1.1"/>
<line x1="355.15" y1="493.60" x2="355.15" y2="496.80" stroke="#000" stroke-width="1.1"/>
<line x1="278.80" y1="499.80" x2="320.80" y2="499.80" stroke="#000" stroke-width="1.2"/>
<line x1="325.40" y1="499.80" x2="367.30" y2="499.80" stroke="#000" stroke-width="1.2"/>
<text x="285.40" y="511.30" font-size="8.29" font-weight="normal" font-style="normal" fill="#383838" color="#383838" textLength="30.00" lengthAdjust="spacingAndGlyphs">Control</text>
<text x="320.80" y="511.30" font-size="8.57" font-weight="normal" font-style="normal" fill="#383838" color="#383838" textLength="51.30" lengthAdjust="spacingAndGlyphs">miR-125b Tg</text>
<text transform="translate(249.10,466.80) rotate(-90)" font-size="10" fill="#333" color="#333" textLength="23.90" lengthAdjust="spacingAndGlyphs">(X10<tspan font-size="6.6" dy="-4.2">3</tspan><tspan dy="4.2">)</tspan></text>
<text x="306.80" y="436.80" font-size="8.57" font-weight="normal" font-style="normal" fill="#383838" color="#383838" textLength="10.40" lengthAdjust="spacingAndGlyphs">NS</text>
<text x="327.10" y="423.00" font-size="8.57" font-weight="normal" font-style="normal" fill="#383838" color="#383838" textLength="10.40" lengthAdjust="spacingAndGlyphs">NS</text>
<text x="301.6" y="411.5" font-size="9.2" fill="#333" color="#333" textLength="42.9" lengthAdjust="spacingAndGlyphs">CD3<tspan font-size="6" dy="-3.3">+</tspan><tspan dy="3.3"> cells</tspan></text>
<line x1="416.20" y1="417.00" x2="416.20" y2="494.20" stroke="#000" stroke-width="1.3"/>
<line x1="412.60" y1="493.60" x2="505.30" y2="493.60" stroke="#000" stroke-width="1.3"/>
<line x1="412.40" y1="420.20" x2="416.20" y2="420.20" stroke="#000" stroke-width="1.1"/>
<line x1="412.40" y1="438.50" x2="416.20" y2="438.50" stroke="#000" stroke-width="1.1"/>
<line x1="412.40" y1="456.90" x2="416.20" y2="456.90" stroke="#000" stroke-width="1.1"/>
<line x1="412.40" y1="475.20" x2="416.20" y2="475.20" stroke="#000" stroke-width="1.1"/>
<text x="399.20" y="423.40" font-size="8.57" font-weight="normal" font-style="normal" fill="#333" color="#333" textLength="10.20" lengthAdjust="spacingAndGlyphs">40</text>
<text x="399.20" y="441.70" font-size="8.57" font-weight="normal" font-style="normal" fill="#333" color="#333" textLength="10.20" lengthAdjust="spacingAndGlyphs">30</text>
<text x="399.20" y="460.10" font-size="8.57" font-weight="normal" font-style="normal" fill="#333" color="#333" textLength="10.20" lengthAdjust="spacingAndGlyphs">20</text>
<text x="399.20" y="478.40" font-size="8.57" font-weight="normal" font-style="normal" fill="#333" color="#333" textLength="10.20" lengthAdjust="spacingAndGlyphs">10</text>
<text x="404.30" y="496.30" font-size="8.57" font-weight="normal" font-style="normal" fill="#333" color="#333" textLength="5.10" lengthAdjust="spacingAndGlyphs">0</text>
<rect x="420.20" y="487.30" width="19.30" height="6.30" fill="#55266f"/>
<rect x="439.50" y="458.20" width="19.20" height="35.40" fill="#b4032d"/>
<rect x="466.50" y="486.30" width="19.30" height="7.30" fill="#55266f"/>
<rect x="485.80" y="436.20" width="19.00" height="57.40" fill="#b4032d"/>
<line x1="429.90" y1="486.80" x2="429.90" y2="487.30" stroke="#000" stroke-width="1.2"/>
<line x1="426.40" y1="486.80" x2="433.40" y2="486.80" stroke="#000" stroke-width="1.3"/>
<line x1="449.30" y1="452.20" x2="449.30" y2="458.20" stroke="#000" stroke-width="1.2"/>
<line x1="444.40" y1="452.20" x2="454.20" y2="452.20" stroke="#000" stroke-width="1.3"/>
<line x1="476.10" y1="485.80" x2="476.10" y2="486.30" stroke="#000" stroke-width="1.2"/>
<line x1="472.60" y1="485.80" x2="479.60" y2="485.80" stroke="#000" stroke-width="1.3"/>
<line x1="495.30" y1="431.20" x2="495.30" y2="436.20" stroke="#000" stroke-width="1.2"/>
<line x1="490.40" y1="431.20" x2="500.20" y2="431.20" stroke="#000" stroke-width="1.3"/>
<path d="M428.90 450.20V447.60H474.60V450.20" fill="none" stroke="#111" stroke-width="1.25"/>
<path d="M449.70 429.70V426.70H494.90V429.70" fill="none" stroke="#111" stroke-width="1.25"/>
<line x1="429.85" y1="493.60" x2="429.85" y2="496.80" stroke="#000" stroke-width="1.1"/>
<line x1="449.10" y1="493.60" x2="449.10" y2="496.80" stroke="#000" stroke-width="1.1"/>
<line x1="476.15" y1="493.60" x2="476.15" y2="496.80" stroke="#000" stroke-width="1.1"/>
<line x1="495.30" y1="493.60" x2="495.30" y2="496.80" stroke="#000" stroke-width="1.1"/>
<line x1="418.80" y1="500.20" x2="460.50" y2="500.20" stroke="#000" stroke-width="1.2"/>
<line x1="464.60" y1="500.20" x2="506.70" y2="500.20" stroke="#000" stroke-width="1.2"/>
<text x="425.20" y="511.40" font-size="8.43" font-weight="normal" font-style="normal" fill="#383838" color="#383838" textLength="29.80" lengthAdjust="spacingAndGlyphs">Control</text>
<text x="460.20" y="511.40" font-size="8.71" font-weight="normal" font-style="normal" fill="#383838" color="#383838" textLength="50.80" lengthAdjust="spacingAndGlyphs">miR-125b Tg</text>
<text transform="translate(388.90,466.80) rotate(-90)" font-size="10" fill="#333" color="#333" textLength="23.90" lengthAdjust="spacingAndGlyphs">(X10<tspan font-size="6.6" dy="-4.2">3</tspan><tspan dy="4.2">)</tspan></text>
<text x="446.30" y="444.40" font-size="8.14" font-weight="normal" font-style="normal" fill="#383838" color="#383838" textLength="10.30" lengthAdjust="spacingAndGlyphs">NS</text>
<text x="467.60" y="423.00" font-size="8.57" font-weight="normal" font-style="normal" fill="#383838" color="#383838" textLength="10.40" lengthAdjust="spacingAndGlyphs">NS</text>
<text x="426" y="412.3" font-size="9.2" fill="#333" color="#333" textLength="74.1" lengthAdjust="spacingAndGlyphs">CD11b<tspan font-size="6" dy="-3.3">+</tspan><tspan dy="3.3"> cells (10</tspan><tspan font-size="6" dy="-3.3">3</tspan><tspan dy="3.3">)</tspan></text>
</g>
<g fill="#000"><rect x="0" y="0" width="520" height="1.3"/><rect x="0" y="0" width="1.4" height="522"/><rect x="518.3" y="0" width="1.7" height="522"/><rect x="0" y="520.2" width="520" height="1.8"/></g>
</svg></body></html>
